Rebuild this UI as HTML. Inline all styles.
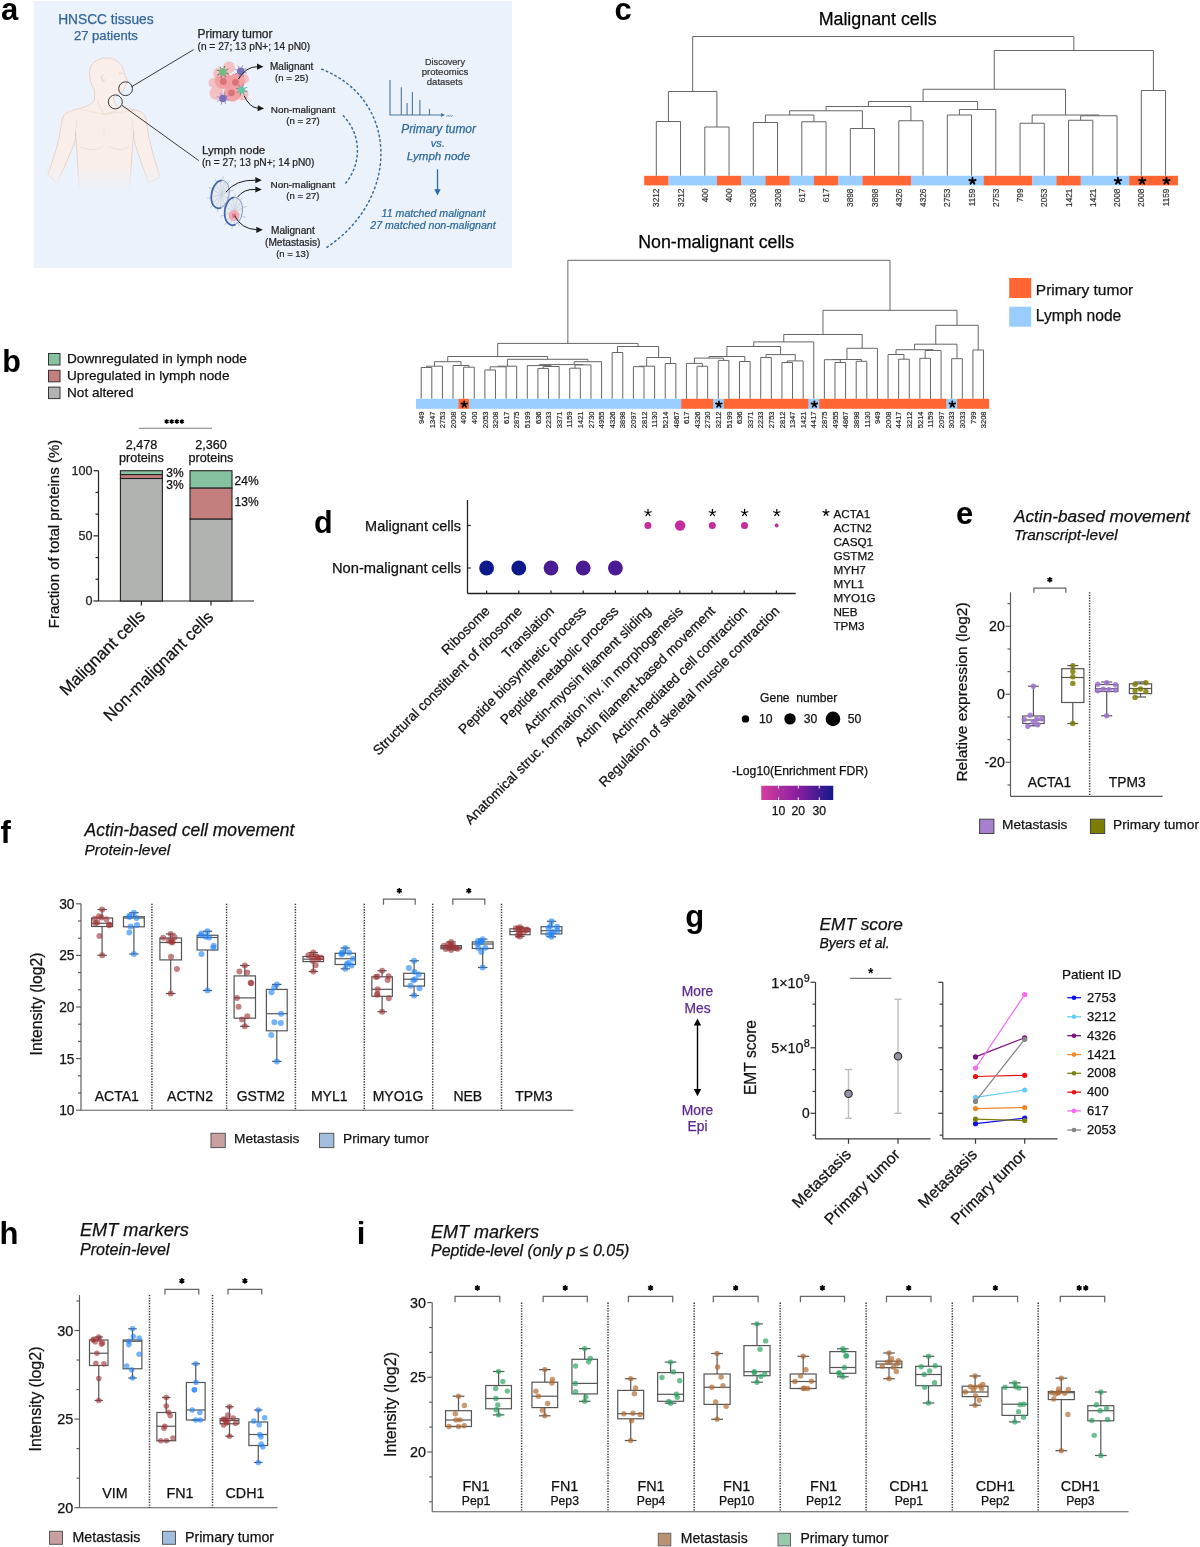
<!DOCTYPE html>
<html><head><meta charset="utf-8"><title>Figure</title>
<style>
html,body{margin:0;padding:0;background:#fff;}
body{width:1200px;height:1547px;overflow:hidden;}
svg{display:block;font-family:"Liberation Sans", sans-serif;will-change:transform;}
</style></head>
<body>
<svg width="1200" height="1547" viewBox="0 0 1200 1547">
<rect x="0" y="0" width="1200" height="1547" fill="#fff"/>
<rect x="34.00" y="1.00" width="478.00" height="267.00" fill="#EBF2FB"/>
<text x="1.00" y="20.20" font-size="31" text-anchor="start" font-weight="bold" font-style="normal" fill="#000">a</text>
<text x="105.90" y="23.80" font-size="13.75" text-anchor="middle" font-weight="normal" font-style="normal" fill="#33669E" stroke="#33669E" stroke-width="0.25">HNSCC tissues</text>
<text x="105.90" y="40.00" font-size="13.07" text-anchor="middle" font-weight="normal" font-style="normal" fill="#33669E" stroke="#33669E" stroke-width="0.25">27 patients</text>
<defs><linearGradient id="skinfade" x1="0" y1="0" x2="0" y2="1"><stop offset="0" stop-color="#F9EEE9"/><stop offset="0.82" stop-color="#F9EEE9"/><stop offset="1" stop-color="#F9EEE9" stop-opacity="0"/></linearGradient></defs>
<defs><linearGradient id="bfade" gradientUnits="userSpaceOnUse" x1="0" y1="165" x2="0" y2="192"><stop offset="0" stop-color="#fff"/><stop offset="1" stop-color="#000"/></linearGradient><mask id="bmask" maskUnits="userSpaceOnUse" x="30" y="40" width="150" height="160"><rect x="30" y="40" width="150" height="160" fill="url(#bfade)"/></mask></defs>
<g mask="url(#bmask)">
<path d="M107,58 C97.5,58 89.5,64 89.5,72 C89.5,79 91,85 94.5,90 L94.5,100 C92,104 86,107 80,108.5 C72,110 66,112 63.5,116 C61.5,120 61,127 60,133 C58,145 53,160 47.8,174.5 L57,183 C63,170 70,155 75.5,140 L75.5,131 C77,150 78,172 79.6,191 L129.4,191 C131,172 132,150 133.6,131 L134,140 C138,155 144,170 149,183 L160,177 C156,165 151,148 148,133 C147,126 146.5,120 145,116 C142,111 135,109.5 128,108.5 C122,107.5 118,106.5 116,105.5 L113,97.5 C116,96.5 121,93.5 123.5,90 C125,87.5 125.5,85 126.5,83.2 L128.2,81.3 C126.5,79 125,76 124.2,72.5 C123,65 117,58 107,58 Z" fill="#F9EEE9" stroke="#E4CABF" stroke-width="0.8"/>
<path d="M97,100 C99,106 102,111 104,114.5 C108,113 113,112 117,111" fill="none" stroke="#EAD6CD" stroke-width="0.7"/>
<path d="M80,109 C88,111 97,113 104,114.5 C115,113 128,111 138,110" fill="none" stroke="#EAD6CD" stroke-width="0.6"/>
<path d="M75.5,131 C76.5,127 77,123 77,119" fill="none" stroke="#EAD6CD" stroke-width="0.6"/>
<path d="M133.6,131 C132.5,127 132,123 132,119" fill="none" stroke="#EAD6CD" stroke-width="0.6"/>
<path d="M80,147 C90,151 98,150 103,146 M109,146 C114,150 121,151 129,147" fill="none" stroke="#EAD6CD" stroke-width="0.6"/>
<path d="M104,128 L104,134" fill="none" stroke="#EAD6CD" stroke-width="0.5"/>
<path d="M103.5,75 C101.5,74.5 101,79 102.5,81.5 C103.5,82.5 104.5,81 104,79" fill="none" stroke="#E0C4B8" stroke-width="0.7"/>
<path d="M119,73.5 C120.5,72.8 122,73 123,74" fill="none" stroke="#E0C4B8" stroke-width="0.7"/>
</g>
<circle cx="125.60" cy="88.70" r="6.90" fill="none" stroke="#3a3a3a" stroke-width="1.0"/>
<circle cx="115.30" cy="101.90" r="7.00" fill="none" stroke="#3a3a3a" stroke-width="1.0"/>
<line x1="131.30" y1="86.90" x2="193.50" y2="49.70" stroke="#3a3a3a" stroke-width="1.0"/>
<line x1="121.80" y1="105.20" x2="198.80" y2="160.60" stroke="#3a3a3a" stroke-width="1.0"/>
<text x="197.50" y="37.50" font-size="11.94" text-anchor="start" font-weight="normal" font-style="normal" fill="#222" stroke="#222" stroke-width="0.25">Primary tumor</text>
<text x="197.50" y="50.00" font-size="10.19" text-anchor="start" font-weight="normal" font-style="normal" fill="#222" stroke="#222" stroke-width="0.22">(n = 27; 13 pN+; 14 pN0)</text>
<text x="291.70" y="69.50" font-size="9.99" text-anchor="middle" font-weight="normal" font-style="normal" fill="#222" stroke="#222" stroke-width="0.22">Malignant</text>
<text x="291.70" y="80.80" font-size="9.58" text-anchor="middle" font-weight="normal" font-style="normal" fill="#222" stroke="#222" stroke-width="0.21">(n = 25)</text>
<text x="303.00" y="112.50" font-size="9.92" text-anchor="middle" font-weight="normal" font-style="normal" fill="#222" stroke="#222" stroke-width="0.22">Non-malignant</text>
<text x="303.00" y="124.20" font-size="9.61" text-anchor="middle" font-weight="normal" font-style="normal" fill="#222" stroke="#222" stroke-width="0.21">(n = 27)</text>
<text x="201.90" y="153.60" font-size="11.6" text-anchor="start" font-weight="normal" font-style="normal" fill="#222" stroke="#222" stroke-width="0.25">Lymph node</text>
<text x="201.90" y="165.90" font-size="10.19" text-anchor="start" font-weight="normal" font-style="normal" fill="#222" stroke="#222" stroke-width="0.22">(n = 27; 13 pN+; 14 pN0)</text>
<text x="302.90" y="187.80" font-size="9.95" text-anchor="middle" font-weight="normal" font-style="normal" fill="#222" stroke="#222" stroke-width="0.22">Non-malignant</text>
<text x="302.90" y="199.10" font-size="9.55" text-anchor="middle" font-weight="normal" font-style="normal" fill="#222" stroke="#222" stroke-width="0.21">(n = 27)</text>
<text x="292.90" y="234.10" font-size="10.1" text-anchor="middle" font-weight="normal" font-style="normal" fill="#222" stroke="#222" stroke-width="0.22">Malignant</text>
<text x="292.70" y="245.50" font-size="10.19" text-anchor="middle" font-weight="normal" font-style="normal" fill="#222" stroke="#222" stroke-width="0.22">(Metastasis)</text>
<text x="292.60" y="256.90" font-size="9.47" text-anchor="middle" font-weight="normal" font-style="normal" fill="#222" stroke="#222" stroke-width="0.21">(n = 13)</text>
<text x="445.00" y="64.60" font-size="9.11" text-anchor="middle" font-weight="normal" font-style="normal" fill="#333" stroke="#333" stroke-width="0.20">Discovery</text>
<text x="445.00" y="74.90" font-size="9.53" text-anchor="middle" font-weight="normal" font-style="normal" fill="#333" stroke="#333" stroke-width="0.21">proteomics</text>
<text x="444.80" y="85.30" font-size="9.5" text-anchor="middle" font-weight="normal" font-style="normal" fill="#333" stroke="#333" stroke-width="0.21">datasets</text>
<text x="438.60" y="133.40" font-size="11.92" text-anchor="middle" font-weight="normal" font-style="italic" fill="#2F6A9E" stroke="#2F6A9E" stroke-width="0.25">Primary tumor</text>
<text x="437.90" y="147.10" font-size="11.09" text-anchor="middle" font-weight="normal" font-style="italic" fill="#2F6A9E" stroke="#2F6A9E" stroke-width="0.24">vs.</text>
<text x="438.50" y="159.60" font-size="11.54" text-anchor="middle" font-weight="normal" font-style="italic" fill="#2F6A9E" stroke="#2F6A9E" stroke-width="0.25">Lymph node</text>
<text x="433.50" y="216.50" font-size="10.64" text-anchor="middle" font-weight="normal" font-style="italic" fill="#2F6A9E" stroke="#2F6A9E" stroke-width="0.23">11 matched malignant</text>
<text x="433.00" y="228.80" font-size="10.6" text-anchor="middle" font-weight="normal" font-style="italic" fill="#2F6A9E" stroke="#2F6A9E" stroke-width="0.23">27 matched non-malignant</text>
<polyline points="390.00,80.10 390.00,115.00 442.50,115.00" fill="none" stroke="#4F7499" stroke-width="1.1"/>
<path d="M445,115 L441,113 L441,117 Z" fill="#4F7499"/>
<line x1="401.30" y1="87.20" x2="401.30" y2="115.00" stroke="#4F7499" stroke-width="1.1"/>
<line x1="407.10" y1="103.00" x2="407.10" y2="115.00" stroke="#4F7499" stroke-width="1.1"/>
<line x1="412.40" y1="92.00" x2="412.40" y2="115.00" stroke="#4F7499" stroke-width="1.1"/>
<line x1="419.90" y1="100.10" x2="419.90" y2="115.00" stroke="#4F7499" stroke-width="1.1"/>
<line x1="429.50" y1="108.90" x2="429.50" y2="115.00" stroke="#4F7499" stroke-width="1.1"/>
<text x="446.50" y="116.50" font-size="4" text-anchor="start" font-weight="normal" font-style="italic" fill="#4F7499">m/z</text>
<line x1="437.50" y1="169.30" x2="437.50" y2="190.50" stroke="#2F6A9E" stroke-width="1.3"/>
<path d="M434.3,189.2 L440.7,189.2 L437.5,195.4 Z" fill="#2F6A9E"/>
<path d="M343.3,115.8 C362,135 362,165 344,185.1" fill="none" stroke="#3A6D9A" stroke-width="1.5" stroke-dasharray="1.6,3.2" stroke-linecap="round"/>
<path d="M321.7,69.2 C400,100 400,200 325.6,248.1" fill="none" stroke="#3A6D9A" stroke-width="1.5" stroke-dasharray="1.6,3.2" stroke-linecap="round"/>
<circle cx="216.50" cy="93.00" r="7.00" fill="#F5B8B8" opacity="0.85"/>
<circle cx="219.00" cy="73.50" r="6.00" fill="#F5B8B8" opacity="0.85"/>
<circle cx="242.50" cy="94.50" r="6.00" fill="#F5B8B8" opacity="0.85"/>
<circle cx="244.00" cy="79.00" r="5.00" fill="#F5B8B8" opacity="0.85"/>
<circle cx="229.00" cy="67.50" r="6.00" fill="#F5B8B8" opacity="0.85"/>
<circle cx="213.50" cy="83.00" r="5.00" fill="#F5B8B8" opacity="0.85"/>
<circle cx="223.50" cy="80.50" r="8.30" fill="#F3A0A2" stroke="#EE9496" stroke-width="0.5"/>
<circle cx="236.50" cy="81.50" r="8.00" fill="#F3A0A2" stroke="#EE9496" stroke-width="0.5"/>
<circle cx="232.50" cy="93.00" r="8.30" fill="#F3A0A2" stroke="#EE9496" stroke-width="0.5"/>
<circle cx="223.30" cy="81.50" r="3.40" fill="#D8737A"/>
<circle cx="235.50" cy="82.30" r="3.40" fill="#D8737A"/>
<circle cx="231.50" cy="92.80" r="3.40" fill="#D8737A"/>
<line x1="226.33" y1="73.09" x2="228.82" y2="73.86" stroke="#3d6b6a" stroke-width="0.8"/>
<line x1="224.53" y1="75.27" x2="225.74" y2="77.57" stroke="#3d6b6a" stroke-width="0.8"/>
<line x1="221.71" y1="75.53" x2="220.94" y2="78.02" stroke="#3d6b6a" stroke-width="0.8"/>
<line x1="219.53" y1="73.73" x2="217.23" y2="74.94" stroke="#3d6b6a" stroke-width="0.8"/>
<line x1="219.27" y1="70.91" x2="216.78" y2="70.14" stroke="#3d6b6a" stroke-width="0.8"/>
<line x1="221.07" y1="68.73" x2="219.86" y2="66.43" stroke="#3d6b6a" stroke-width="0.8"/>
<line x1="223.89" y1="68.47" x2="224.66" y2="65.98" stroke="#3d6b6a" stroke-width="0.8"/>
<line x1="226.07" y1="70.27" x2="228.37" y2="69.06" stroke="#3d6b6a" stroke-width="0.8"/>
<circle cx="222.80" cy="72.00" r="3.70" fill="#6DBE80"/>
<line x1="244.43" y1="72.42" x2="246.91" y2="73.19" stroke="#8a80c8" stroke-width="0.8"/>
<line x1="242.57" y1="74.66" x2="243.79" y2="76.96" stroke="#8a80c8" stroke-width="0.8"/>
<line x1="239.68" y1="74.93" x2="238.91" y2="77.41" stroke="#8a80c8" stroke-width="0.8"/>
<line x1="237.44" y1="73.07" x2="235.14" y2="74.29" stroke="#8a80c8" stroke-width="0.8"/>
<line x1="237.17" y1="70.18" x2="234.69" y2="69.41" stroke="#8a80c8" stroke-width="0.8"/>
<line x1="239.03" y1="67.94" x2="237.81" y2="65.64" stroke="#8a80c8" stroke-width="0.8"/>
<line x1="241.92" y1="67.67" x2="242.69" y2="65.19" stroke="#8a80c8" stroke-width="0.8"/>
<line x1="244.16" y1="69.53" x2="246.46" y2="68.31" stroke="#8a80c8" stroke-width="0.8"/>
<circle cx="240.80" cy="71.30" r="3.80" fill="#7A70BA"/>
<line x1="226.63" y1="99.62" x2="229.11" y2="100.39" stroke="#8a80c8" stroke-width="0.8"/>
<line x1="224.77" y1="101.86" x2="225.99" y2="104.16" stroke="#8a80c8" stroke-width="0.8"/>
<line x1="221.88" y1="102.13" x2="221.11" y2="104.61" stroke="#8a80c8" stroke-width="0.8"/>
<line x1="219.64" y1="100.27" x2="217.34" y2="101.49" stroke="#8a80c8" stroke-width="0.8"/>
<line x1="219.37" y1="97.38" x2="216.89" y2="96.61" stroke="#8a80c8" stroke-width="0.8"/>
<line x1="221.23" y1="95.14" x2="220.01" y2="92.84" stroke="#8a80c8" stroke-width="0.8"/>
<line x1="224.12" y1="94.87" x2="224.89" y2="92.39" stroke="#8a80c8" stroke-width="0.8"/>
<line x1="226.36" y1="96.73" x2="228.66" y2="95.51" stroke="#8a80c8" stroke-width="0.8"/>
<circle cx="223.00" cy="98.50" r="3.80" fill="#7A70BA"/>
<line x1="244.85" y1="90.98" x2="247.34" y2="91.74" stroke="#3d8a80" stroke-width="0.8"/>
<line x1="243.24" y1="92.92" x2="244.45" y2="95.22" stroke="#3d8a80" stroke-width="0.8"/>
<line x1="240.72" y1="93.15" x2="239.96" y2="95.64" stroke="#3d8a80" stroke-width="0.8"/>
<line x1="238.78" y1="91.54" x2="236.48" y2="92.75" stroke="#3d8a80" stroke-width="0.8"/>
<line x1="238.55" y1="89.02" x2="236.06" y2="88.26" stroke="#3d8a80" stroke-width="0.8"/>
<line x1="240.16" y1="87.08" x2="238.95" y2="84.78" stroke="#3d8a80" stroke-width="0.8"/>
<line x1="242.68" y1="86.85" x2="243.44" y2="84.36" stroke="#3d8a80" stroke-width="0.8"/>
<line x1="244.62" y1="88.46" x2="246.92" y2="87.25" stroke="#3d8a80" stroke-width="0.8"/>
<circle cx="241.70" cy="90.00" r="3.30" fill="#62C6A9"/>
<path d="M238.3,79.2 Q246,66.5 257.5,66.7" fill="none" stroke="#1a1a1a" stroke-width="1.0"/>
<path d="M263.50,66.70 L257.00,69.80 L257.00,63.60 Z" fill="#1a1a1a"/>
<path d="M244.2,95.8 Q249.5,107.5 258.0,108.3" fill="none" stroke="#1a1a1a" stroke-width="1.0"/>
<path d="M264.20,108.60 L257.55,111.37 L257.86,105.18 Z" fill="#1a1a1a"/>
<g transform="rotate(12 220.3 194.3)">
<line x1="227.93" y1="197.46" x2="233.14" y2="198.80" stroke="#B5C3D8" stroke-width="0.8"/>
<line x1="225.33" y1="204.14" x2="228.76" y2="208.31" stroke="#B5C3D8" stroke-width="0.8"/>
<line x1="220.80" y1="207.05" x2="221.15" y2="212.46" stroke="#B5C3D8" stroke-width="0.8"/>
<line x1="216.09" y1="205.10" x2="213.22" y2="209.68" stroke="#B5C3D8" stroke-width="0.8"/>
<line x1="212.98" y1="199.02" x2="207.99" y2="201.02" stroke="#B5C3D8" stroke-width="0.8"/>
<line x1="212.67" y1="191.14" x2="207.46" y2="189.80" stroke="#B5C3D8" stroke-width="0.8"/>
<line x1="215.27" y1="184.46" x2="211.84" y2="180.29" stroke="#B5C3D8" stroke-width="0.8"/>
<line x1="219.80" y1="181.55" x2="219.45" y2="176.14" stroke="#B5C3D8" stroke-width="0.8"/>
<line x1="224.51" y1="183.50" x2="227.38" y2="178.92" stroke="#B5C3D8" stroke-width="0.8"/>
<line x1="227.62" y1="189.58" x2="232.61" y2="187.58" stroke="#B5C3D8" stroke-width="0.8"/>
<ellipse cx="220.3" cy="194.3" rx="8.75" ry="14.2" fill="#E6EAF1" stroke="#7E98C2" stroke-width="0.9"/>
<line x1="221.80" y1="194.30" x2="228.45" y2="196.98" stroke="#C3CEDF" stroke-width="0.7"/>
<line x1="221.80" y1="194.30" x2="226.53" y2="203.23" stroke="#C3CEDF" stroke-width="0.7"/>
<line x1="221.80" y1="194.30" x2="222.94" y2="207.09" stroke="#C3CEDF" stroke-width="0.7"/>
<line x1="221.80" y1="194.30" x2="218.65" y2="207.52" stroke="#C3CEDF" stroke-width="0.7"/>
<line x1="221.80" y1="194.30" x2="214.80" y2="204.41" stroke="#C3CEDF" stroke-width="0.7"/>
<line x1="221.80" y1="194.30" x2="212.42" y2="198.59" stroke="#C3CEDF" stroke-width="0.7"/>
<line x1="221.80" y1="194.30" x2="212.15" y2="191.62" stroke="#C3CEDF" stroke-width="0.7"/>
<line x1="221.80" y1="194.30" x2="214.07" y2="185.37" stroke="#C3CEDF" stroke-width="0.7"/>
<line x1="221.80" y1="194.30" x2="217.66" y2="181.51" stroke="#C3CEDF" stroke-width="0.7"/>
<line x1="221.80" y1="194.30" x2="221.95" y2="181.08" stroke="#C3CEDF" stroke-width="0.7"/>
<line x1="221.80" y1="194.30" x2="225.80" y2="184.19" stroke="#C3CEDF" stroke-width="0.7"/>
<line x1="221.80" y1="194.30" x2="228.18" y2="190.01" stroke="#C3CEDF" stroke-width="0.7"/>
<path d="M218.78,180.32 A8.75,14.2 0 1 0 224.00,207.17" fill="none" stroke="#4767A8" stroke-width="1.7"/>
</g>
<g transform="rotate(8 233.6 211.3)">
<line x1="241.36" y1="214.42" x2="246.58" y2="215.75" stroke="#B5C3D8" stroke-width="0.8"/>
<line x1="238.71" y1="221.00" x2="242.16" y2="225.15" stroke="#B5C3D8" stroke-width="0.8"/>
<line x1="234.11" y1="223.87" x2="234.46" y2="229.26" stroke="#B5C3D8" stroke-width="0.8"/>
<line x1="229.32" y1="221.95" x2="226.43" y2="226.51" stroke="#B5C3D8" stroke-width="0.8"/>
<line x1="226.16" y1="215.95" x2="221.15" y2="217.95" stroke="#B5C3D8" stroke-width="0.8"/>
<line x1="225.84" y1="208.18" x2="220.62" y2="206.85" stroke="#B5C3D8" stroke-width="0.8"/>
<line x1="228.49" y1="201.60" x2="225.04" y2="197.45" stroke="#B5C3D8" stroke-width="0.8"/>
<line x1="233.09" y1="198.73" x2="232.74" y2="193.34" stroke="#B5C3D8" stroke-width="0.8"/>
<line x1="237.88" y1="200.65" x2="240.77" y2="196.09" stroke="#B5C3D8" stroke-width="0.8"/>
<line x1="241.04" y1="206.65" x2="246.05" y2="204.65" stroke="#B5C3D8" stroke-width="0.8"/>
<ellipse cx="233.6" cy="211.3" rx="8.9" ry="14.0" fill="#E6EAF1" stroke="#7E98C2" stroke-width="0.9"/>
<line x1="235.10" y1="211.30" x2="241.89" y2="213.94" stroke="#C3CEDF" stroke-width="0.7"/>
<line x1="235.10" y1="211.30" x2="239.94" y2="220.11" stroke="#C3CEDF" stroke-width="0.7"/>
<line x1="235.10" y1="211.30" x2="236.29" y2="223.91" stroke="#C3CEDF" stroke-width="0.7"/>
<line x1="235.10" y1="211.30" x2="231.92" y2="224.33" stroke="#C3CEDF" stroke-width="0.7"/>
<line x1="235.10" y1="211.30" x2="228.00" y2="221.27" stroke="#C3CEDF" stroke-width="0.7"/>
<line x1="235.10" y1="211.30" x2="225.58" y2="215.53" stroke="#C3CEDF" stroke-width="0.7"/>
<line x1="235.10" y1="211.30" x2="225.31" y2="208.66" stroke="#C3CEDF" stroke-width="0.7"/>
<line x1="235.10" y1="211.30" x2="227.26" y2="202.49" stroke="#C3CEDF" stroke-width="0.7"/>
<line x1="235.10" y1="211.30" x2="230.91" y2="198.69" stroke="#C3CEDF" stroke-width="0.7"/>
<line x1="235.10" y1="211.30" x2="235.28" y2="198.27" stroke="#C3CEDF" stroke-width="0.7"/>
<line x1="235.10" y1="211.30" x2="239.20" y2="201.33" stroke="#C3CEDF" stroke-width="0.7"/>
<line x1="235.10" y1="211.30" x2="241.62" y2="207.07" stroke="#C3CEDF" stroke-width="0.7"/>
<path d="M232.05,197.51 A8.9,14.0 0 1 0 237.36,223.99" fill="none" stroke="#4767A8" stroke-width="1.7"/>
</g>
<circle cx="234.00" cy="215.50" r="5.40" fill="#F0A5B2" opacity="0.95"/>
<circle cx="234.00" cy="215.50" r="2.20" fill="#DC7A8C"/>
<path d="M225.9,192.1 Q236,179.5 255.5,180.2" fill="none" stroke="#1a1a1a" stroke-width="1.0"/>
<path d="M261.80,180.20 L255.30,183.30 L255.30,177.10 Z" fill="#1a1a1a"/>
<path d="M237.3,197.4 Q244,188.5 255.5,189.5" fill="none" stroke="#1a1a1a" stroke-width="1.0"/>
<path d="M261.80,189.50 L255.30,192.60 L255.30,186.40 Z" fill="#1a1a1a"/>
<path d="M234.6,215.8 Q241.5,229 256.5,229.7" fill="none" stroke="#1a1a1a" stroke-width="1.0"/>
<path d="M262.80,229.80 L256.30,232.90 L256.30,226.70 Z" fill="#1a1a1a"/>
<text x="2.20" y="371.60" font-size="30.5" text-anchor="start" font-weight="bold" font-style="normal" fill="#000">b</text>
<rect x="48.50" y="353.50" width="11.50" height="11.50" fill="#86C29F" stroke="#333" stroke-width="1"/>
<text x="67.00" y="363.30" font-size="13.6" text-anchor="start" font-weight="normal" font-style="normal" fill="#111" stroke="#111" stroke-width="0.25">Downregulated in lymph node</text>
<rect x="48.50" y="370.30" width="11.50" height="11.50" fill="#C47E7E" stroke="#333" stroke-width="1"/>
<text x="67.00" y="380.00" font-size="13.6" text-anchor="start" font-weight="normal" font-style="normal" fill="#111" stroke="#111" stroke-width="0.25">Upregulated in lymph node</text>
<rect x="48.50" y="387.10" width="11.50" height="11.50" fill="#B1B3B1" stroke="#333" stroke-width="1"/>
<text x="67.00" y="396.80" font-size="13.6" text-anchor="start" font-weight="normal" font-style="normal" fill="#111" stroke="#111" stroke-width="0.25">Not altered</text>
<line x1="138.80" y1="428.30" x2="212.00" y2="428.30" stroke="#808080" stroke-width="1.1"/>
<path d="M166.65,419.20 L166.65,423.80 M168.64,420.35 L164.66,422.65 M168.64,422.65 L164.66,420.35 " fill="none" stroke="#000" stroke-width="1.6"/>
<path d="M171.75,419.20 L171.75,423.80 M173.74,420.35 L169.76,422.65 M173.74,422.65 L169.76,420.35 " fill="none" stroke="#000" stroke-width="1.6"/>
<path d="M176.85,419.20 L176.85,423.80 M178.84,420.35 L174.86,422.65 M178.84,422.65 L174.86,420.35 " fill="none" stroke="#000" stroke-width="1.6"/>
<path d="M181.95,419.20 L181.95,423.80 M183.94,420.35 L179.96,422.65 M183.94,422.65 L179.96,420.35 " fill="none" stroke="#000" stroke-width="1.6"/>
<line x1="98.50" y1="470.70" x2="98.50" y2="601.00" stroke="#222" stroke-width="1.2"/>
<line x1="98.50" y1="601.00" x2="254.00" y2="601.00" stroke="#222" stroke-width="1.2"/>
<line x1="93.50" y1="601.00" x2="98.50" y2="601.00" stroke="#222" stroke-width="1.2"/>
<line x1="93.50" y1="535.85" x2="98.50" y2="535.85" stroke="#222" stroke-width="1.2"/>
<line x1="93.50" y1="470.70" x2="98.50" y2="470.70" stroke="#222" stroke-width="1.2"/>
<line x1="95.50" y1="579.28" x2="98.50" y2="579.28" stroke="#222" stroke-width="1.2"/>
<line x1="95.50" y1="557.57" x2="98.50" y2="557.57" stroke="#222" stroke-width="1.2"/>
<line x1="95.50" y1="514.13" x2="98.50" y2="514.13" stroke="#222" stroke-width="1.2"/>
<line x1="95.50" y1="492.42" x2="98.50" y2="492.42" stroke="#222" stroke-width="1.2"/>
<text x="92.50" y="605.40" font-size="12.6" text-anchor="end" font-weight="normal" font-style="normal" fill="#222" stroke="#222" stroke-width="0.25">0</text>
<text x="92.50" y="540.25" font-size="12.6" text-anchor="end" font-weight="normal" font-style="normal" fill="#222" stroke="#222" stroke-width="0.25">50</text>
<text x="92.50" y="475.10" font-size="12.6" text-anchor="end" font-weight="normal" font-style="normal" fill="#222" stroke="#222" stroke-width="0.25">100</text>
<line x1="141.40" y1="601.00" x2="141.40" y2="605.60" stroke="#222" stroke-width="1.2"/>
<line x1="211.00" y1="601.00" x2="211.00" y2="605.60" stroke="#222" stroke-width="1.2"/>
<rect x="120.40" y="470.70" width="42.00" height="3.91" fill="#86C29F" stroke="#222" stroke-width="1.1"/>
<rect x="120.40" y="474.61" width="42.00" height="3.91" fill="#C47E7E" stroke="#222" stroke-width="1.1"/>
<rect x="120.40" y="478.52" width="42.00" height="122.48" fill="#B1B3B1" stroke="#222" stroke-width="1.1"/>
<rect x="190.00" y="470.70" width="42.00" height="17.46" fill="#86C29F" stroke="#222" stroke-width="1.1"/>
<rect x="190.00" y="488.16" width="42.00" height="31.01" fill="#C47E7E" stroke="#222" stroke-width="1.1"/>
<rect x="190.00" y="519.17" width="42.00" height="81.83" fill="#B1B3B1" stroke="#222" stroke-width="1.1"/>
<text x="141.40" y="449.40" font-size="12.6" text-anchor="middle" font-weight="normal" font-style="normal" fill="#111" stroke="#111" stroke-width="0.25">2,478</text>
<text x="141.40" y="462.40" font-size="12.6" text-anchor="middle" font-weight="normal" font-style="normal" fill="#111" stroke="#111" stroke-width="0.25">proteins</text>
<text x="211.00" y="449.40" font-size="12.6" text-anchor="middle" font-weight="normal" font-style="normal" fill="#111" stroke="#111" stroke-width="0.25">2,360</text>
<text x="211.00" y="462.40" font-size="12.6" text-anchor="middle" font-weight="normal" font-style="normal" fill="#111" stroke="#111" stroke-width="0.25">proteins</text>
<text x="166.30" y="476.50" font-size="12" text-anchor="start" font-weight="normal" font-style="normal" fill="#111" stroke="#111" stroke-width="0.25">3%</text>
<text x="166.30" y="488.50" font-size="12" text-anchor="start" font-weight="normal" font-style="normal" fill="#111" stroke="#111" stroke-width="0.25">3%</text>
<text x="234.60" y="484.80" font-size="12" text-anchor="start" font-weight="normal" font-style="normal" fill="#111" stroke="#111" stroke-width="0.25">24%</text>
<text x="234.60" y="506.30" font-size="12" text-anchor="start" font-weight="normal" font-style="normal" fill="#111" stroke="#111" stroke-width="0.25">13%</text>
<text x="58.70" y="534.00" font-size="15" text-anchor="middle" font-weight="normal" font-style="normal" fill="#111" stroke="#111" stroke-width="0.25" transform="rotate(-90 58.70 534.00)">Fraction of total proteins (%)</text>
<text x="146.00" y="617.00" font-size="17" text-anchor="end" font-weight="normal" font-style="normal" fill="#111" stroke="#111" stroke-width="0.25" transform="rotate(-45 146.00 617.00)">Malignant cells</text>
<text x="214.50" y="618.00" font-size="16.8" text-anchor="end" font-weight="normal" font-style="normal" fill="#111" stroke="#111" stroke-width="0.25" transform="rotate(-45 214.50 618.00)">Non-malignant cells</text>
<text x="614.50" y="20.30" font-size="31" text-anchor="start" font-weight="bold" font-style="normal" fill="#000">c</text>
<text x="877.60" y="25.20" font-size="17.84" text-anchor="middle" font-weight="normal" font-style="normal" fill="#000" stroke="#000" stroke-width="0.25">Malignant cells</text>
<polyline points="656.30,175.80 656.30,121.50 680.55,121.50 680.55,175.80" fill="none" stroke="#666666" stroke-width="1.0"/>
<polyline points="704.80,175.80 704.80,127.00 729.05,127.00 729.05,175.80" fill="none" stroke="#666666" stroke-width="1.0"/>
<polyline points="668.42,121.50 668.42,91.50 716.92,91.50 716.92,127.00" fill="none" stroke="#666666" stroke-width="1.0"/>
<polyline points="753.30,175.80 753.30,122.50 777.55,122.50 777.55,175.80" fill="none" stroke="#666666" stroke-width="1.0"/>
<polyline points="801.80,175.80 801.80,121.75 826.05,121.75 826.05,175.80" fill="none" stroke="#666666" stroke-width="1.0"/>
<polyline points="765.42,122.50 765.42,115.00 813.92,115.00 813.92,121.75" fill="none" stroke="#666666" stroke-width="1.0"/>
<polyline points="850.30,175.80 850.30,128.50 874.55,128.50 874.55,175.80" fill="none" stroke="#666666" stroke-width="1.0"/>
<polyline points="789.67,115.00 789.67,110.75 862.42,110.75 862.42,128.50" fill="none" stroke="#666666" stroke-width="1.0"/>
<polyline points="898.80,175.80 898.80,120.75 923.05,120.75 923.05,175.80" fill="none" stroke="#666666" stroke-width="1.0"/>
<polyline points="826.05,110.75 826.05,106.50 910.92,106.50 910.92,120.75" fill="none" stroke="#666666" stroke-width="1.0"/>
<polyline points="947.30,175.80 947.30,115.00 971.55,115.00 971.55,175.80" fill="none" stroke="#666666" stroke-width="1.0"/>
<polyline points="959.42,115.00 959.42,109.50 995.80,109.50 995.80,175.80" fill="none" stroke="#666666" stroke-width="1.0"/>
<polyline points="868.49,106.50 868.49,101.50 977.61,101.50 977.61,109.50" fill="none" stroke="#666666" stroke-width="1.0"/>
<polyline points="1020.05,175.80 1020.05,123.25 1044.30,123.25 1044.30,175.80" fill="none" stroke="#666666" stroke-width="1.0"/>
<polyline points="1068.55,175.80 1068.55,120.25 1092.80,120.25 1092.80,175.80" fill="none" stroke="#666666" stroke-width="1.0"/>
<polyline points="1080.67,120.25 1080.67,115.75 1117.05,115.75 1117.05,175.80" fill="none" stroke="#666666" stroke-width="1.0"/>
<polyline points="1032.17,123.25 1032.17,115.00 1098.86,115.00 1098.86,115.75" fill="none" stroke="#666666" stroke-width="1.0"/>
<polyline points="923.05,101.50 923.05,89.25 1065.52,89.25 1065.52,115.00" fill="none" stroke="#666666" stroke-width="1.0"/>
<polyline points="1141.30,175.80 1141.30,90.50 1165.55,90.50 1165.55,175.80" fill="none" stroke="#666666" stroke-width="1.0"/>
<polyline points="994.28,89.25 994.28,50.50 1153.42,50.50 1153.42,90.50" fill="none" stroke="#666666" stroke-width="1.0"/>
<polyline points="692.67,91.50 692.67,36.50 1073.85,36.50 1073.85,50.50" fill="none" stroke="#666666" stroke-width="1.0"/>
<rect x="644.20" y="175.80" width="24.45" height="9.60" fill="#FF6633"/>
<rect x="668.45" y="175.80" width="48.70" height="9.60" fill="#99CCFF"/>
<rect x="716.95" y="175.80" width="24.45" height="9.60" fill="#FF6633"/>
<rect x="741.20" y="175.80" width="24.45" height="9.60" fill="#99CCFF"/>
<rect x="765.45" y="175.80" width="24.45" height="9.60" fill="#FF6633"/>
<rect x="789.70" y="175.80" width="24.45" height="9.60" fill="#99CCFF"/>
<rect x="813.95" y="175.80" width="24.45" height="9.60" fill="#FF6633"/>
<rect x="838.20" y="175.80" width="24.45" height="9.60" fill="#99CCFF"/>
<rect x="862.45" y="175.80" width="48.70" height="9.60" fill="#FF6633"/>
<rect x="910.95" y="175.80" width="72.95" height="9.60" fill="#99CCFF"/>
<rect x="983.70" y="175.80" width="48.70" height="9.60" fill="#FF6633"/>
<rect x="1032.20" y="175.80" width="24.45" height="9.60" fill="#99CCFF"/>
<rect x="1056.45" y="175.80" width="24.45" height="9.60" fill="#FF6633"/>
<rect x="1080.70" y="175.80" width="48.70" height="9.60" fill="#99CCFF"/>
<rect x="1129.20" y="175.80" width="48.70" height="9.60" fill="#FF6633"/>
<path d="M972.45,181.00 L972.45,177.70 M972.45,181.00 L975.59,179.98 M972.45,181.00 L974.39,183.67 M972.45,181.00 L970.51,183.67 M972.45,181.00 L969.31,179.98 " fill="none" stroke="#000" stroke-width="1.9" stroke-linecap="round"/>
<path d="M1117.95,181.00 L1117.95,177.70 M1117.95,181.00 L1121.09,179.98 M1117.95,181.00 L1119.89,183.67 M1117.95,181.00 L1116.01,183.67 M1117.95,181.00 L1114.81,179.98 " fill="none" stroke="#000" stroke-width="1.9" stroke-linecap="round"/>
<path d="M1142.20,181.00 L1142.20,177.70 M1142.20,181.00 L1145.34,179.98 M1142.20,181.00 L1144.14,183.67 M1142.20,181.00 L1140.26,183.67 M1142.20,181.00 L1139.06,179.98 " fill="none" stroke="#000" stroke-width="1.9" stroke-linecap="round"/>
<path d="M1166.45,181.00 L1166.45,177.70 M1166.45,181.00 L1169.59,179.98 M1166.45,181.00 L1168.39,183.67 M1166.45,181.00 L1164.51,183.67 M1166.45,181.00 L1163.31,179.98 " fill="none" stroke="#000" stroke-width="1.9" stroke-linecap="round"/>
<text x="659.29" y="188.50" font-size="8.3" text-anchor="end" font-weight="normal" font-style="normal" fill="#333" stroke="#333" stroke-width="0.18" transform="rotate(-90 659.29 188.50)">3212</text>
<text x="683.54" y="188.50" font-size="8.3" text-anchor="end" font-weight="normal" font-style="normal" fill="#333" stroke="#333" stroke-width="0.18" transform="rotate(-90 683.54 188.50)">3212</text>
<text x="707.79" y="188.50" font-size="8.3" text-anchor="end" font-weight="normal" font-style="normal" fill="#333" stroke="#333" stroke-width="0.18" transform="rotate(-90 707.79 188.50)">400</text>
<text x="732.04" y="188.50" font-size="8.3" text-anchor="end" font-weight="normal" font-style="normal" fill="#333" stroke="#333" stroke-width="0.18" transform="rotate(-90 732.04 188.50)">400</text>
<text x="756.29" y="188.50" font-size="8.3" text-anchor="end" font-weight="normal" font-style="normal" fill="#333" stroke="#333" stroke-width="0.18" transform="rotate(-90 756.29 188.50)">3208</text>
<text x="780.54" y="188.50" font-size="8.3" text-anchor="end" font-weight="normal" font-style="normal" fill="#333" stroke="#333" stroke-width="0.18" transform="rotate(-90 780.54 188.50)">3208</text>
<text x="804.79" y="188.50" font-size="8.3" text-anchor="end" font-weight="normal" font-style="normal" fill="#333" stroke="#333" stroke-width="0.18" transform="rotate(-90 804.79 188.50)">617</text>
<text x="829.04" y="188.50" font-size="8.3" text-anchor="end" font-weight="normal" font-style="normal" fill="#333" stroke="#333" stroke-width="0.18" transform="rotate(-90 829.04 188.50)">617</text>
<text x="853.29" y="188.50" font-size="8.3" text-anchor="end" font-weight="normal" font-style="normal" fill="#333" stroke="#333" stroke-width="0.18" transform="rotate(-90 853.29 188.50)">3898</text>
<text x="877.54" y="188.50" font-size="8.3" text-anchor="end" font-weight="normal" font-style="normal" fill="#333" stroke="#333" stroke-width="0.18" transform="rotate(-90 877.54 188.50)">3898</text>
<text x="901.79" y="188.50" font-size="8.3" text-anchor="end" font-weight="normal" font-style="normal" fill="#333" stroke="#333" stroke-width="0.18" transform="rotate(-90 901.79 188.50)">4326</text>
<text x="926.04" y="188.50" font-size="8.3" text-anchor="end" font-weight="normal" font-style="normal" fill="#333" stroke="#333" stroke-width="0.18" transform="rotate(-90 926.04 188.50)">4326</text>
<text x="950.29" y="188.50" font-size="8.3" text-anchor="end" font-weight="normal" font-style="normal" fill="#333" stroke="#333" stroke-width="0.18" transform="rotate(-90 950.29 188.50)">2753</text>
<text x="974.54" y="188.50" font-size="8.3" text-anchor="end" font-weight="normal" font-style="normal" fill="#333" stroke="#333" stroke-width="0.18" transform="rotate(-90 974.54 188.50)">1159</text>
<text x="998.79" y="188.50" font-size="8.3" text-anchor="end" font-weight="normal" font-style="normal" fill="#333" stroke="#333" stroke-width="0.18" transform="rotate(-90 998.79 188.50)">2753</text>
<text x="1023.04" y="188.50" font-size="8.3" text-anchor="end" font-weight="normal" font-style="normal" fill="#333" stroke="#333" stroke-width="0.18" transform="rotate(-90 1023.04 188.50)">799</text>
<text x="1047.29" y="188.50" font-size="8.3" text-anchor="end" font-weight="normal" font-style="normal" fill="#333" stroke="#333" stroke-width="0.18" transform="rotate(-90 1047.29 188.50)">2053</text>
<text x="1071.54" y="188.50" font-size="8.3" text-anchor="end" font-weight="normal" font-style="normal" fill="#333" stroke="#333" stroke-width="0.18" transform="rotate(-90 1071.54 188.50)">1421</text>
<text x="1095.79" y="188.50" font-size="8.3" text-anchor="end" font-weight="normal" font-style="normal" fill="#333" stroke="#333" stroke-width="0.18" transform="rotate(-90 1095.79 188.50)">1421</text>
<text x="1120.04" y="188.50" font-size="8.3" text-anchor="end" font-weight="normal" font-style="normal" fill="#333" stroke="#333" stroke-width="0.18" transform="rotate(-90 1120.04 188.50)">2008</text>
<text x="1144.29" y="188.50" font-size="8.3" text-anchor="end" font-weight="normal" font-style="normal" fill="#333" stroke="#333" stroke-width="0.18" transform="rotate(-90 1144.29 188.50)">2008</text>
<text x="1168.54" y="188.50" font-size="8.3" text-anchor="end" font-weight="normal" font-style="normal" fill="#333" stroke="#333" stroke-width="0.18" transform="rotate(-90 1168.54 188.50)">1159</text>
<text x="716.20" y="247.50" font-size="17.77" text-anchor="middle" font-weight="normal" font-style="normal" fill="#000" stroke="#000" stroke-width="0.25">Non-malignant cells</text>
<polyline points="421.20,398.80 421.20,367.50 431.81,367.50 431.81,398.80" fill="none" stroke="#666666" stroke-width="1.0"/>
<polyline points="426.50,367.50 426.50,366.20 442.42,366.20 442.42,398.80" fill="none" stroke="#666666" stroke-width="1.0"/>
<polyline points="463.64,398.80 463.64,367.20 474.25,367.20 474.25,398.80" fill="none" stroke="#666666" stroke-width="1.0"/>
<polyline points="453.03,398.80 453.03,365.50 468.94,365.50 468.94,367.20" fill="none" stroke="#666666" stroke-width="1.0"/>
<polyline points="434.46,366.20 434.46,361.70 460.99,361.70 460.99,365.50" fill="none" stroke="#666666" stroke-width="1.0"/>
<polyline points="484.86,398.80 484.86,370.00 495.47,370.00 495.47,398.80" fill="none" stroke="#666666" stroke-width="1.0"/>
<polyline points="490.16,370.00 490.16,366.80 506.08,366.80 506.08,398.80" fill="none" stroke="#666666" stroke-width="1.0"/>
<polyline points="498.12,366.80 498.12,366.20 516.69,366.20 516.69,398.80" fill="none" stroke="#666666" stroke-width="1.0"/>
<polyline points="537.91,398.80 537.91,368.40 548.52,368.40 548.52,398.80" fill="none" stroke="#666666" stroke-width="1.0"/>
<polyline points="543.21,368.40 543.21,366.50 559.13,366.50 559.13,398.80" fill="none" stroke="#666666" stroke-width="1.0"/>
<polyline points="527.30,398.80 527.30,365.60 551.17,365.60 551.17,366.50" fill="none" stroke="#666666" stroke-width="1.0"/>
<polyline points="569.74,398.80 569.74,368.20 580.35,368.20 580.35,398.80" fill="none" stroke="#666666" stroke-width="1.0"/>
<polyline points="575.04,368.20 575.04,364.90 590.96,364.90 590.96,398.80" fill="none" stroke="#666666" stroke-width="1.0"/>
<polyline points="539.24,365.60 539.24,364.60 583.00,364.60 583.00,364.90" fill="none" stroke="#666666" stroke-width="1.0"/>
<polyline points="574.20,364.60 574.20,361.70 601.57,361.70 601.57,398.80" fill="none" stroke="#666666" stroke-width="1.0"/>
<polyline points="507.41,366.20 507.41,359.30 587.88,359.30 587.88,361.70" fill="none" stroke="#666666" stroke-width="1.0"/>
<polyline points="447.72,361.70 447.72,356.50 547.65,356.50 547.65,359.30" fill="none" stroke="#666666" stroke-width="1.0"/>
<polyline points="612.18,398.80 612.18,352.50 622.79,352.50 622.79,398.80" fill="none" stroke="#666666" stroke-width="1.0"/>
<polyline points="633.40,398.80 633.40,366.70 644.01,366.70 644.01,398.80" fill="none" stroke="#666666" stroke-width="1.0"/>
<polyline points="638.70,366.70 638.70,366.20 654.62,366.20 654.62,398.80" fill="none" stroke="#666666" stroke-width="1.0"/>
<polyline points="665.23,398.80 665.23,363.50 675.84,363.50 675.84,398.80" fill="none" stroke="#666666" stroke-width="1.0"/>
<polyline points="646.66,366.20 646.66,357.50 670.53,357.50 670.53,363.50" fill="none" stroke="#666666" stroke-width="1.0"/>
<polyline points="617.48,352.50 617.48,346.50 658.60,346.50 658.60,357.50" fill="none" stroke="#666666" stroke-width="1.0"/>
<polyline points="497.69,356.50 497.69,343.40 638.04,343.40 638.04,346.50" fill="none" stroke="#666666" stroke-width="1.0"/>
<polyline points="697.06,398.80 697.06,366.25 707.67,366.25 707.67,398.80" fill="none" stroke="#666666" stroke-width="1.0"/>
<polyline points="686.45,398.80 686.45,363.40 702.37,363.40 702.37,366.25" fill="none" stroke="#666666" stroke-width="1.0"/>
<polyline points="718.28,398.80 718.28,360.40 728.89,360.40 728.89,398.80" fill="none" stroke="#666666" stroke-width="1.0"/>
<polyline points="694.41,363.40 694.41,358.10 723.59,358.10 723.59,360.40" fill="none" stroke="#666666" stroke-width="1.0"/>
<polyline points="739.50,398.80 739.50,361.50 750.11,361.50 750.11,398.80" fill="none" stroke="#666666" stroke-width="1.0"/>
<polyline points="709.00,358.10 709.00,356.50 744.80,356.50 744.80,361.50" fill="none" stroke="#666666" stroke-width="1.0"/>
<polyline points="760.72,398.80 760.72,357.50 771.33,357.50 771.33,398.80" fill="none" stroke="#666666" stroke-width="1.0"/>
<polyline points="781.94,398.80 781.94,362.50 792.55,362.50 792.55,398.80" fill="none" stroke="#666666" stroke-width="1.0"/>
<polyline points="787.25,362.50 787.25,360.90 803.16,360.90 803.16,398.80" fill="none" stroke="#666666" stroke-width="1.0"/>
<polyline points="766.02,357.50 766.02,354.60 795.20,354.60 795.20,360.90" fill="none" stroke="#666666" stroke-width="1.0"/>
<polyline points="726.90,356.50 726.90,346.50 780.61,346.50 780.61,354.60" fill="none" stroke="#666666" stroke-width="1.0"/>
<polyline points="753.76,346.50 753.76,341.90 813.77,341.90 813.77,398.80" fill="none" stroke="#666666" stroke-width="1.0"/>
<polyline points="834.99,398.80 834.99,362.50 845.60,362.50 845.60,398.80" fill="none" stroke="#666666" stroke-width="1.0"/>
<polyline points="824.38,398.80 824.38,359.70 840.29,359.70 840.29,362.50" fill="none" stroke="#666666" stroke-width="1.0"/>
<polyline points="856.21,398.80 856.21,361.30 866.82,361.30 866.82,398.80" fill="none" stroke="#666666" stroke-width="1.0"/>
<polyline points="832.34,359.70 832.34,359.50 861.51,359.50 861.51,361.30" fill="none" stroke="#666666" stroke-width="1.0"/>
<polyline points="846.93,359.50 846.93,348.30 877.43,348.30 877.43,398.80" fill="none" stroke="#666666" stroke-width="1.0"/>
<polyline points="783.76,341.90 783.76,334.50 862.18,334.50 862.18,348.30" fill="none" stroke="#666666" stroke-width="1.0"/>
<polyline points="898.65,398.80 898.65,359.20 909.26,359.20 909.26,398.80" fill="none" stroke="#666666" stroke-width="1.0"/>
<polyline points="888.04,398.80 888.04,354.50 903.95,354.50 903.95,359.20" fill="none" stroke="#666666" stroke-width="1.0"/>
<polyline points="919.87,398.80 919.87,358.30 930.48,358.30 930.48,398.80" fill="none" stroke="#666666" stroke-width="1.0"/>
<polyline points="925.17,358.30 925.17,350.50 941.09,350.50 941.09,398.80" fill="none" stroke="#666666" stroke-width="1.0"/>
<polyline points="896.00,354.50 896.00,349.70 933.13,349.70 933.13,350.50" fill="none" stroke="#666666" stroke-width="1.0"/>
<polyline points="951.70,398.80 951.70,358.70 962.31,358.70 962.31,398.80" fill="none" stroke="#666666" stroke-width="1.0"/>
<polyline points="914.56,349.70 914.56,344.20 957.00,344.20 957.00,358.70" fill="none" stroke="#666666" stroke-width="1.0"/>
<polyline points="972.92,398.80 972.92,350.00 983.53,350.00 983.53,398.80" fill="none" stroke="#666666" stroke-width="1.0"/>
<polyline points="935.78,344.20 935.78,325.30 978.23,325.30 978.23,350.00" fill="none" stroke="#666666" stroke-width="1.0"/>
<polyline points="822.97,334.50 822.97,310.30 957.00,310.30 957.00,325.30" fill="none" stroke="#666666" stroke-width="1.0"/>
<polyline points="567.86,343.40 567.86,260.30 889.99,260.30 889.99,310.30" fill="none" stroke="#666666" stroke-width="1.0"/>
<rect x="416.00" y="398.80" width="42.64" height="10.00" fill="#99CCFF"/>
<rect x="458.44" y="398.80" width="10.81" height="10.00" fill="#FF6633"/>
<rect x="469.05" y="398.80" width="212.40" height="10.00" fill="#99CCFF"/>
<rect x="681.25" y="398.80" width="32.03" height="10.00" fill="#FF6633"/>
<rect x="713.08" y="398.80" width="10.81" height="10.00" fill="#99CCFF"/>
<rect x="723.69" y="398.80" width="85.08" height="10.00" fill="#FF6633"/>
<rect x="808.57" y="398.80" width="10.81" height="10.00" fill="#99CCFF"/>
<rect x="819.18" y="398.80" width="127.52" height="10.00" fill="#FF6633"/>
<rect x="946.50" y="398.80" width="10.81" height="10.00" fill="#99CCFF"/>
<rect x="957.11" y="398.80" width="32.03" height="10.00" fill="#FF6633"/>
<path d="M464.24,404.30 L464.24,401.30 M464.24,404.30 L467.09,403.37 M464.24,404.30 L466.00,406.73 M464.24,404.30 L462.48,406.73 M464.24,404.30 L461.39,403.37 " fill="none" stroke="#000" stroke-width="1.8" stroke-linecap="round"/>
<path d="M718.88,404.30 L718.88,401.30 M718.88,404.30 L721.73,403.37 M718.88,404.30 L720.64,406.73 M718.88,404.30 L717.12,406.73 M718.88,404.30 L716.03,403.37 " fill="none" stroke="#000" stroke-width="1.8" stroke-linecap="round"/>
<path d="M814.37,404.30 L814.37,401.30 M814.37,404.30 L817.22,403.37 M814.37,404.30 L816.13,406.73 M814.37,404.30 L812.61,406.73 M814.37,404.30 L811.52,403.37 " fill="none" stroke="#000" stroke-width="1.8" stroke-linecap="round"/>
<path d="M952.30,404.30 L952.30,401.30 M952.30,404.30 L955.15,403.37 M952.30,404.30 L954.06,406.73 M952.30,404.30 L950.54,406.73 M952.30,404.30 L949.45,403.37 " fill="none" stroke="#000" stroke-width="1.8" stroke-linecap="round"/>
<text x="423.90" y="411.50" font-size="7.5" text-anchor="end" font-weight="normal" font-style="normal" fill="#222" stroke="#222" stroke-width="0.16" transform="rotate(-90 423.90 411.50)">949</text>
<text x="434.51" y="411.50" font-size="7.5" text-anchor="end" font-weight="normal" font-style="normal" fill="#222" stroke="#222" stroke-width="0.16" transform="rotate(-90 434.51 411.50)">1347</text>
<text x="445.12" y="411.50" font-size="7.5" text-anchor="end" font-weight="normal" font-style="normal" fill="#222" stroke="#222" stroke-width="0.16" transform="rotate(-90 445.12 411.50)">2753</text>
<text x="455.73" y="411.50" font-size="7.5" text-anchor="end" font-weight="normal" font-style="normal" fill="#222" stroke="#222" stroke-width="0.16" transform="rotate(-90 455.73 411.50)">2008</text>
<text x="466.34" y="411.50" font-size="7.5" text-anchor="end" font-weight="normal" font-style="normal" fill="#222" stroke="#222" stroke-width="0.16" transform="rotate(-90 466.34 411.50)">400</text>
<text x="476.95" y="411.50" font-size="7.5" text-anchor="end" font-weight="normal" font-style="normal" fill="#222" stroke="#222" stroke-width="0.16" transform="rotate(-90 476.95 411.50)">400</text>
<text x="487.56" y="411.50" font-size="7.5" text-anchor="end" font-weight="normal" font-style="normal" fill="#222" stroke="#222" stroke-width="0.16" transform="rotate(-90 487.56 411.50)">2053</text>
<text x="498.17" y="411.50" font-size="7.5" text-anchor="end" font-weight="normal" font-style="normal" fill="#222" stroke="#222" stroke-width="0.16" transform="rotate(-90 498.17 411.50)">3208</text>
<text x="508.78" y="411.50" font-size="7.5" text-anchor="end" font-weight="normal" font-style="normal" fill="#222" stroke="#222" stroke-width="0.16" transform="rotate(-90 508.78 411.50)">617</text>
<text x="519.39" y="411.50" font-size="7.5" text-anchor="end" font-weight="normal" font-style="normal" fill="#222" stroke="#222" stroke-width="0.16" transform="rotate(-90 519.39 411.50)">2875</text>
<text x="530.00" y="411.50" font-size="7.5" text-anchor="end" font-weight="normal" font-style="normal" fill="#222" stroke="#222" stroke-width="0.16" transform="rotate(-90 530.00 411.50)">5199</text>
<text x="540.61" y="411.50" font-size="7.5" text-anchor="end" font-weight="normal" font-style="normal" fill="#222" stroke="#222" stroke-width="0.16" transform="rotate(-90 540.61 411.50)">636</text>
<text x="551.22" y="411.50" font-size="7.5" text-anchor="end" font-weight="normal" font-style="normal" fill="#222" stroke="#222" stroke-width="0.16" transform="rotate(-90 551.22 411.50)">2233</text>
<text x="561.83" y="411.50" font-size="7.5" text-anchor="end" font-weight="normal" font-style="normal" fill="#222" stroke="#222" stroke-width="0.16" transform="rotate(-90 561.83 411.50)">3371</text>
<text x="572.44" y="411.50" font-size="7.5" text-anchor="end" font-weight="normal" font-style="normal" fill="#222" stroke="#222" stroke-width="0.16" transform="rotate(-90 572.44 411.50)">1159</text>
<text x="583.05" y="411.50" font-size="7.5" text-anchor="end" font-weight="normal" font-style="normal" fill="#222" stroke="#222" stroke-width="0.16" transform="rotate(-90 583.05 411.50)">1421</text>
<text x="593.66" y="411.50" font-size="7.5" text-anchor="end" font-weight="normal" font-style="normal" fill="#222" stroke="#222" stroke-width="0.16" transform="rotate(-90 593.66 411.50)">2730</text>
<text x="604.27" y="411.50" font-size="7.5" text-anchor="end" font-weight="normal" font-style="normal" fill="#222" stroke="#222" stroke-width="0.16" transform="rotate(-90 604.27 411.50)">4955</text>
<text x="614.88" y="411.50" font-size="7.5" text-anchor="end" font-weight="normal" font-style="normal" fill="#222" stroke="#222" stroke-width="0.16" transform="rotate(-90 614.88 411.50)">4326</text>
<text x="625.49" y="411.50" font-size="7.5" text-anchor="end" font-weight="normal" font-style="normal" fill="#222" stroke="#222" stroke-width="0.16" transform="rotate(-90 625.49 411.50)">3898</text>
<text x="636.10" y="411.50" font-size="7.5" text-anchor="end" font-weight="normal" font-style="normal" fill="#222" stroke="#222" stroke-width="0.16" transform="rotate(-90 636.10 411.50)">2097</text>
<text x="646.71" y="411.50" font-size="7.5" text-anchor="end" font-weight="normal" font-style="normal" fill="#222" stroke="#222" stroke-width="0.16" transform="rotate(-90 646.71 411.50)">2812</text>
<text x="657.32" y="411.50" font-size="7.5" text-anchor="end" font-weight="normal" font-style="normal" fill="#222" stroke="#222" stroke-width="0.16" transform="rotate(-90 657.32 411.50)">1130</text>
<text x="667.93" y="411.50" font-size="7.5" text-anchor="end" font-weight="normal" font-style="normal" fill="#222" stroke="#222" stroke-width="0.16" transform="rotate(-90 667.93 411.50)">5214</text>
<text x="678.54" y="411.50" font-size="7.5" text-anchor="end" font-weight="normal" font-style="normal" fill="#222" stroke="#222" stroke-width="0.16" transform="rotate(-90 678.54 411.50)">4867</text>
<text x="689.15" y="411.50" font-size="7.5" text-anchor="end" font-weight="normal" font-style="normal" fill="#222" stroke="#222" stroke-width="0.16" transform="rotate(-90 689.15 411.50)">617</text>
<text x="699.76" y="411.50" font-size="7.5" text-anchor="end" font-weight="normal" font-style="normal" fill="#222" stroke="#222" stroke-width="0.16" transform="rotate(-90 699.76 411.50)">4326</text>
<text x="710.37" y="411.50" font-size="7.5" text-anchor="end" font-weight="normal" font-style="normal" fill="#222" stroke="#222" stroke-width="0.16" transform="rotate(-90 710.37 411.50)">2730</text>
<text x="720.98" y="411.50" font-size="7.5" text-anchor="end" font-weight="normal" font-style="normal" fill="#222" stroke="#222" stroke-width="0.16" transform="rotate(-90 720.98 411.50)">3212</text>
<text x="731.59" y="411.50" font-size="7.5" text-anchor="end" font-weight="normal" font-style="normal" fill="#222" stroke="#222" stroke-width="0.16" transform="rotate(-90 731.59 411.50)">5199</text>
<text x="742.20" y="411.50" font-size="7.5" text-anchor="end" font-weight="normal" font-style="normal" fill="#222" stroke="#222" stroke-width="0.16" transform="rotate(-90 742.20 411.50)">636</text>
<text x="752.81" y="411.50" font-size="7.5" text-anchor="end" font-weight="normal" font-style="normal" fill="#222" stroke="#222" stroke-width="0.16" transform="rotate(-90 752.81 411.50)">3371</text>
<text x="763.42" y="411.50" font-size="7.5" text-anchor="end" font-weight="normal" font-style="normal" fill="#222" stroke="#222" stroke-width="0.16" transform="rotate(-90 763.42 411.50)">2233</text>
<text x="774.03" y="411.50" font-size="7.5" text-anchor="end" font-weight="normal" font-style="normal" fill="#222" stroke="#222" stroke-width="0.16" transform="rotate(-90 774.03 411.50)">2753</text>
<text x="784.64" y="411.50" font-size="7.5" text-anchor="end" font-weight="normal" font-style="normal" fill="#222" stroke="#222" stroke-width="0.16" transform="rotate(-90 784.64 411.50)">2812</text>
<text x="795.25" y="411.50" font-size="7.5" text-anchor="end" font-weight="normal" font-style="normal" fill="#222" stroke="#222" stroke-width="0.16" transform="rotate(-90 795.25 411.50)">1347</text>
<text x="805.86" y="411.50" font-size="7.5" text-anchor="end" font-weight="normal" font-style="normal" fill="#222" stroke="#222" stroke-width="0.16" transform="rotate(-90 805.86 411.50)">1421</text>
<text x="816.47" y="411.50" font-size="7.5" text-anchor="end" font-weight="normal" font-style="normal" fill="#222" stroke="#222" stroke-width="0.16" transform="rotate(-90 816.47 411.50)">4417</text>
<text x="827.08" y="411.50" font-size="7.5" text-anchor="end" font-weight="normal" font-style="normal" fill="#222" stroke="#222" stroke-width="0.16" transform="rotate(-90 827.08 411.50)">2875</text>
<text x="837.69" y="411.50" font-size="7.5" text-anchor="end" font-weight="normal" font-style="normal" fill="#222" stroke="#222" stroke-width="0.16" transform="rotate(-90 837.69 411.50)">4955</text>
<text x="848.30" y="411.50" font-size="7.5" text-anchor="end" font-weight="normal" font-style="normal" fill="#222" stroke="#222" stroke-width="0.16" transform="rotate(-90 848.30 411.50)">4867</text>
<text x="858.91" y="411.50" font-size="7.5" text-anchor="end" font-weight="normal" font-style="normal" fill="#222" stroke="#222" stroke-width="0.16" transform="rotate(-90 858.91 411.50)">3898</text>
<text x="869.52" y="411.50" font-size="7.5" text-anchor="end" font-weight="normal" font-style="normal" fill="#222" stroke="#222" stroke-width="0.16" transform="rotate(-90 869.52 411.50)">1130</text>
<text x="880.13" y="411.50" font-size="7.5" text-anchor="end" font-weight="normal" font-style="normal" fill="#222" stroke="#222" stroke-width="0.16" transform="rotate(-90 880.13 411.50)">949</text>
<text x="890.74" y="411.50" font-size="7.5" text-anchor="end" font-weight="normal" font-style="normal" fill="#222" stroke="#222" stroke-width="0.16" transform="rotate(-90 890.74 411.50)">2008</text>
<text x="901.35" y="411.50" font-size="7.5" text-anchor="end" font-weight="normal" font-style="normal" fill="#222" stroke="#222" stroke-width="0.16" transform="rotate(-90 901.35 411.50)">4417</text>
<text x="911.96" y="411.50" font-size="7.5" text-anchor="end" font-weight="normal" font-style="normal" fill="#222" stroke="#222" stroke-width="0.16" transform="rotate(-90 911.96 411.50)">3212</text>
<text x="922.57" y="411.50" font-size="7.5" text-anchor="end" font-weight="normal" font-style="normal" fill="#222" stroke="#222" stroke-width="0.16" transform="rotate(-90 922.57 411.50)">5214</text>
<text x="933.18" y="411.50" font-size="7.5" text-anchor="end" font-weight="normal" font-style="normal" fill="#222" stroke="#222" stroke-width="0.16" transform="rotate(-90 933.18 411.50)">1159</text>
<text x="943.79" y="411.50" font-size="7.5" text-anchor="end" font-weight="normal" font-style="normal" fill="#222" stroke="#222" stroke-width="0.16" transform="rotate(-90 943.79 411.50)">2097</text>
<text x="954.40" y="411.50" font-size="7.5" text-anchor="end" font-weight="normal" font-style="normal" fill="#222" stroke="#222" stroke-width="0.16" transform="rotate(-90 954.40 411.50)">3033</text>
<text x="965.01" y="411.50" font-size="7.5" text-anchor="end" font-weight="normal" font-style="normal" fill="#222" stroke="#222" stroke-width="0.16" transform="rotate(-90 965.01 411.50)">3033</text>
<text x="975.62" y="411.50" font-size="7.5" text-anchor="end" font-weight="normal" font-style="normal" fill="#222" stroke="#222" stroke-width="0.16" transform="rotate(-90 975.62 411.50)">799</text>
<text x="986.23" y="411.50" font-size="7.5" text-anchor="end" font-weight="normal" font-style="normal" fill="#222" stroke="#222" stroke-width="0.16" transform="rotate(-90 986.23 411.50)">3208</text>
<rect x="1009.20" y="278.00" width="22.00" height="20.00" fill="#FF6633"/>
<rect x="1009.20" y="306.70" width="22.00" height="20.00" fill="#99CCFF"/>
<text x="1035.80" y="294.70" font-size="15.53" text-anchor="start" font-weight="normal" font-style="normal" fill="#111" stroke="#111" stroke-width="0.25">Primary tumor</text>
<text x="1035.80" y="321.30" font-size="15.65" text-anchor="start" font-weight="normal" font-style="normal" fill="#111" stroke="#111" stroke-width="0.25">Lymph node</text>
<text x="314.00" y="532.60" font-size="30.5" text-anchor="start" font-weight="bold" font-style="normal" fill="#000">d</text>
<line x1="467.50" y1="500.00" x2="467.50" y2="593.50" stroke="#222" stroke-width="1.3"/>
<line x1="467.50" y1="593.50" x2="795.70" y2="593.50" stroke="#222" stroke-width="1.3"/>
<line x1="467.50" y1="525.50" x2="470.70" y2="525.50" stroke="#222" stroke-width="1.2"/>
<line x1="467.50" y1="568.00" x2="470.70" y2="568.00" stroke="#222" stroke-width="1.2"/>
<line x1="486.60" y1="590.50" x2="486.60" y2="593.50" stroke="#222" stroke-width="1.2"/>
<line x1="518.80" y1="590.50" x2="518.80" y2="593.50" stroke="#222" stroke-width="1.2"/>
<line x1="551.00" y1="590.50" x2="551.00" y2="593.50" stroke="#222" stroke-width="1.2"/>
<line x1="583.20" y1="590.50" x2="583.20" y2="593.50" stroke="#222" stroke-width="1.2"/>
<line x1="615.40" y1="590.50" x2="615.40" y2="593.50" stroke="#222" stroke-width="1.2"/>
<line x1="647.60" y1="590.50" x2="647.60" y2="593.50" stroke="#222" stroke-width="1.2"/>
<line x1="679.80" y1="590.50" x2="679.80" y2="593.50" stroke="#222" stroke-width="1.2"/>
<line x1="712.00" y1="590.50" x2="712.00" y2="593.50" stroke="#222" stroke-width="1.2"/>
<line x1="744.20" y1="590.50" x2="744.20" y2="593.50" stroke="#222" stroke-width="1.2"/>
<line x1="776.40" y1="590.50" x2="776.40" y2="593.50" stroke="#222" stroke-width="1.2"/>
<text x="461.00" y="530.60" font-size="14.51" text-anchor="end" font-weight="normal" font-style="normal" fill="#111" stroke="#111" stroke-width="0.25">Malignant cells</text>
<text x="461.00" y="573.20" font-size="14.69" text-anchor="end" font-weight="normal" font-style="normal" fill="#111" stroke="#111" stroke-width="0.25">Non-malignant cells</text>
<circle cx="486.60" cy="568.00" r="7.40" fill="#0C1A8C"/>
<circle cx="518.80" cy="568.00" r="7.40" fill="#0C1A8C"/>
<circle cx="551.00" cy="568.00" r="7.40" fill="#4B1B95"/>
<circle cx="583.20" cy="568.00" r="7.40" fill="#4B1B95"/>
<circle cx="615.40" cy="568.00" r="7.40" fill="#4B1B95"/>
<circle cx="647.90" cy="525.50" r="3.50" fill="#C62D9C"/>
<circle cx="680.10" cy="525.50" r="5.20" fill="#C62D9C"/>
<circle cx="712.30" cy="525.50" r="3.50" fill="#C62D9C"/>
<circle cx="744.50" cy="525.50" r="3.50" fill="#C62D9C"/>
<circle cx="776.70" cy="525.50" r="1.90" fill="#C62D9C"/>
<path d="M648.00,512.80 L648.00,509.40 M648.00,512.80 L651.23,511.75 M648.00,512.80 L650.00,515.55 M648.00,512.80 L646.00,515.55 M648.00,512.80 L644.77,511.75 " fill="none" stroke="#000" stroke-width="1.2" stroke-linecap="round"/>
<path d="M712.40,512.80 L712.40,509.40 M712.40,512.80 L715.63,511.75 M712.40,512.80 L714.40,515.55 M712.40,512.80 L710.40,515.55 M712.40,512.80 L709.17,511.75 " fill="none" stroke="#000" stroke-width="1.2" stroke-linecap="round"/>
<path d="M744.60,512.80 L744.60,509.40 M744.60,512.80 L747.83,511.75 M744.60,512.80 L746.60,515.55 M744.60,512.80 L742.60,515.55 M744.60,512.80 L741.37,511.75 " fill="none" stroke="#000" stroke-width="1.2" stroke-linecap="round"/>
<path d="M776.80,512.80 L776.80,509.40 M776.80,512.80 L780.03,511.75 M776.80,512.80 L778.80,515.55 M776.80,512.80 L774.80,515.55 M776.80,512.80 L773.57,511.75 " fill="none" stroke="#000" stroke-width="1.2" stroke-linecap="round"/>
<text x="490.60" y="611.80" font-size="13.7" text-anchor="end" font-weight="normal" font-style="normal" fill="#111" stroke="#111" stroke-width="0.25" transform="rotate(-45 490.60 611.80)">Ribosome</text>
<text x="522.80" y="611.80" font-size="13.7" text-anchor="end" font-weight="normal" font-style="normal" fill="#111" stroke="#111" stroke-width="0.25" transform="rotate(-45 522.80 611.80)">Structural constituent of ribosome</text>
<text x="555.00" y="611.80" font-size="13.7" text-anchor="end" font-weight="normal" font-style="normal" fill="#111" stroke="#111" stroke-width="0.25" transform="rotate(-45 555.00 611.80)">Translation</text>
<text x="587.20" y="611.80" font-size="13.7" text-anchor="end" font-weight="normal" font-style="normal" fill="#111" stroke="#111" stroke-width="0.25" transform="rotate(-45 587.20 611.80)">Peptide biosynthetic process</text>
<text x="619.40" y="611.80" font-size="13.7" text-anchor="end" font-weight="normal" font-style="normal" fill="#111" stroke="#111" stroke-width="0.25" transform="rotate(-45 619.40 611.80)">Peptide metabolic process</text>
<text x="651.60" y="611.80" font-size="13.7" text-anchor="end" font-weight="normal" font-style="normal" fill="#111" stroke="#111" stroke-width="0.25" transform="rotate(-45 651.60 611.80)">Actin-myosin filament sliding</text>
<text x="683.80" y="611.80" font-size="13.7" text-anchor="end" font-weight="normal" font-style="normal" fill="#111" stroke="#111" stroke-width="0.25" transform="rotate(-45 683.80 611.80)">Anatomical struc. formation inv. in morphogenesis</text>
<text x="716.00" y="611.80" font-size="13.7" text-anchor="end" font-weight="normal" font-style="normal" fill="#111" stroke="#111" stroke-width="0.25" transform="rotate(-45 716.00 611.80)">Actin filament-based movement</text>
<text x="748.20" y="611.80" font-size="13.7" text-anchor="end" font-weight="normal" font-style="normal" fill="#111" stroke="#111" stroke-width="0.25" transform="rotate(-45 748.20 611.80)">Actin-mediated cell contraction</text>
<text x="780.40" y="611.80" font-size="13.7" text-anchor="end" font-weight="normal" font-style="normal" fill="#111" stroke="#111" stroke-width="0.25" transform="rotate(-45 780.40 611.80)">Regulation of skeletal muscle contraction</text>
<path d="M826.00,512.70 L826.00,509.50 M826.00,512.70 L829.04,511.71 M826.00,512.70 L827.88,515.29 M826.00,512.70 L824.12,515.29 M826.00,512.70 L822.96,511.71 " fill="none" stroke="#000" stroke-width="1.25" stroke-linecap="round"/>
<text x="833.40" y="517.55" font-size="11.7" text-anchor="start" font-weight="normal" font-style="normal" fill="#111" stroke="#111" stroke-width="0.25">ACTA1</text>
<text x="833.40" y="531.55" font-size="11.7" text-anchor="start" font-weight="normal" font-style="normal" fill="#111" stroke="#111" stroke-width="0.25">ACTN2</text>
<text x="833.40" y="545.55" font-size="11.7" text-anchor="start" font-weight="normal" font-style="normal" fill="#111" stroke="#111" stroke-width="0.25">CASQ1</text>
<text x="833.40" y="559.55" font-size="11.7" text-anchor="start" font-weight="normal" font-style="normal" fill="#111" stroke="#111" stroke-width="0.25">GSTM2</text>
<text x="833.40" y="573.55" font-size="11.7" text-anchor="start" font-weight="normal" font-style="normal" fill="#111" stroke="#111" stroke-width="0.25">MYH7</text>
<text x="833.40" y="587.55" font-size="11.7" text-anchor="start" font-weight="normal" font-style="normal" fill="#111" stroke="#111" stroke-width="0.25">MYL1</text>
<text x="833.40" y="601.55" font-size="11.7" text-anchor="start" font-weight="normal" font-style="normal" fill="#111" stroke="#111" stroke-width="0.25">MYO1G</text>
<text x="833.40" y="615.55" font-size="11.7" text-anchor="start" font-weight="normal" font-style="normal" fill="#111" stroke="#111" stroke-width="0.25">NEB</text>
<text x="833.40" y="629.55" font-size="11.7" text-anchor="start" font-weight="normal" font-style="normal" fill="#111" stroke="#111" stroke-width="0.25">TPM3</text>
<text x="760.00" y="701.60" font-size="12.1" text-anchor="start" font-weight="normal" font-style="normal" fill="#111" stroke="#111" stroke-width="0.25">Gene  number</text>
<circle cx="745.50" cy="718.90" r="3.70" fill="#000"/>
<text x="759.00" y="723.30" font-size="12.2" text-anchor="start" font-weight="normal" font-style="normal" fill="#111" stroke="#111" stroke-width="0.25">10</text>
<circle cx="790.00" cy="718.90" r="5.70" fill="#000"/>
<text x="803.80" y="723.30" font-size="12.2" text-anchor="start" font-weight="normal" font-style="normal" fill="#111" stroke="#111" stroke-width="0.25">30</text>
<circle cx="833.00" cy="718.90" r="7.30" fill="#000"/>
<text x="847.80" y="723.30" font-size="12.2" text-anchor="start" font-weight="normal" font-style="normal" fill="#111" stroke="#111" stroke-width="0.25">50</text>
<text x="732.00" y="775.00" font-size="12.2" text-anchor="start" font-weight="normal" font-style="normal" fill="#111" stroke="#111" stroke-width="0.25">-Log10(Enrichment FDR)</text>
<defs><linearGradient id="gd" x1="0" x2="1" y1="0" y2="0"><stop offset="0" stop-color="#D63C9E"/><stop offset="0.5" stop-color="#8A1FA0"/><stop offset="1" stop-color="#14198C"/></linearGradient></defs>
<rect x="761.25" y="785.75" width="72.00" height="14.25" fill="url(#gd)"/>
<line x1="778.50" y1="785.75" x2="778.50" y2="788.50" stroke="#fff" stroke-width="1"/>
<line x1="778.50" y1="797.30" x2="778.50" y2="800.00" stroke="#fff" stroke-width="1"/>
<line x1="798.30" y1="785.75" x2="798.30" y2="788.50" stroke="#fff" stroke-width="1"/>
<line x1="798.30" y1="797.30" x2="798.30" y2="800.00" stroke="#fff" stroke-width="1"/>
<line x1="819.30" y1="785.75" x2="819.30" y2="788.50" stroke="#fff" stroke-width="1"/>
<line x1="819.30" y1="797.30" x2="819.30" y2="800.00" stroke="#fff" stroke-width="1"/>
<text x="778.50" y="815.00" font-size="12.2" text-anchor="middle" font-weight="normal" font-style="normal" fill="#111" stroke="#111" stroke-width="0.25">10</text>
<text x="798.30" y="815.00" font-size="12.2" text-anchor="middle" font-weight="normal" font-style="normal" fill="#111" stroke="#111" stroke-width="0.25">20</text>
<text x="819.30" y="815.00" font-size="12.2" text-anchor="middle" font-weight="normal" font-style="normal" fill="#111" stroke="#111" stroke-width="0.25">30</text>
<text x="956.00" y="524.20" font-size="31" text-anchor="start" font-weight="bold" font-style="normal" fill="#000">e</text>
<text x="1014.00" y="521.50" font-size="17.21" text-anchor="start" font-weight="normal" font-style="italic" fill="#111" stroke="#111" stroke-width="0.25">Actin-based movement</text>
<text x="1014.00" y="539.70" font-size="15.33" text-anchor="start" font-weight="normal" font-style="italic" fill="#111" stroke="#111" stroke-width="0.25">Transcript-level</text>
<line x1="1010.50" y1="592.30" x2="1010.50" y2="796.30" stroke="#5a5a5a" stroke-width="1.15"/>
<line x1="1005.50" y1="626.30" x2="1010.50" y2="626.30" stroke="#5a5a5a" stroke-width="1.15"/>
<line x1="1005.50" y1="694.30" x2="1010.50" y2="694.30" stroke="#5a5a5a" stroke-width="1.15"/>
<line x1="1005.50" y1="762.30" x2="1010.50" y2="762.30" stroke="#5a5a5a" stroke-width="1.15"/>
<line x1="1007.50" y1="603.62" x2="1010.50" y2="603.62" stroke="#5a5a5a" stroke-width="1.15"/>
<line x1="1007.50" y1="648.98" x2="1010.50" y2="648.98" stroke="#5a5a5a" stroke-width="1.15"/>
<line x1="1007.50" y1="671.62" x2="1010.50" y2="671.62" stroke="#5a5a5a" stroke-width="1.15"/>
<line x1="1007.50" y1="716.98" x2="1010.50" y2="716.98" stroke="#5a5a5a" stroke-width="1.15"/>
<line x1="1007.50" y1="739.62" x2="1010.50" y2="739.62" stroke="#5a5a5a" stroke-width="1.15"/>
<line x1="1007.50" y1="784.98" x2="1010.50" y2="784.98" stroke="#5a5a5a" stroke-width="1.15"/>
<text x="1004.90" y="631.41" font-size="14.2" text-anchor="end" font-weight="normal" font-style="normal" fill="#111" stroke="#111" stroke-width="0.25">20</text>
<text x="1004.90" y="699.41" font-size="14.2" text-anchor="end" font-weight="normal" font-style="normal" fill="#111" stroke="#111" stroke-width="0.25">0</text>
<text x="1004.90" y="767.41" font-size="14.2" text-anchor="end" font-weight="normal" font-style="normal" fill="#111" stroke="#111" stroke-width="0.25">-20</text>
<line x1="1010.50" y1="796.30" x2="1162.70" y2="796.30" stroke="#5a5a5a" stroke-width="1.15"/>
<line x1="1089.60" y1="592.30" x2="1089.60" y2="796.30" stroke="#3a3a3a" stroke-width="1.5" stroke-dasharray="1.3,1.35"/>
<text x="966.50" y="692.00" font-size="15.5" text-anchor="middle" font-weight="normal" font-style="normal" fill="#111" stroke="#111" stroke-width="0.25" transform="rotate(-90 966.50 692.00)">Relative expression (log2)</text>
<text x="1049.50" y="786.50" font-size="13.8" text-anchor="middle" font-weight="normal" font-style="normal" fill="#111" stroke="#111" stroke-width="0.25">ACTA1</text>
<text x="1127.20" y="786.50" font-size="13.8" text-anchor="middle" font-weight="normal" font-style="normal" fill="#111" stroke="#111" stroke-width="0.25">TPM3</text>
<polyline points="1033.90,592.80 1033.90,588.20 1065.80,588.20 1065.80,592.80" fill="none" stroke="#666" stroke-width="1.25"/>
<path d="M1049.85,577.00 L1049.85,582.60 M1052.27,578.40 L1047.43,581.20 M1052.27,581.20 L1047.43,578.40 " fill="none" stroke="#000" stroke-width="1.55"/>
<line x1="1033.40" y1="686.20" x2="1033.40" y2="716.00" stroke="#555555" stroke-width="1.2"/>
<line x1="1033.40" y1="723.50" x2="1033.40" y2="725.80" stroke="#555555" stroke-width="1.2"/>
<line x1="1027.90" y1="686.20" x2="1038.90" y2="686.20" stroke="#555555" stroke-width="1.2"/>
<line x1="1027.90" y1="725.80" x2="1038.90" y2="725.80" stroke="#555555" stroke-width="1.2"/>
<rect x="1022.70" y="716.00" width="21.40" height="7.50" fill="none" stroke="#555555" stroke-width="1.2"/>
<line x1="1022.70" y1="720.00" x2="1044.10" y2="720.00" stroke="#555555" stroke-width="1.2"/>
<circle cx="1033.40" cy="686.20" r="2.70" fill="#9E72CF" fill-opacity="0.85"/>
<circle cx="1030.10" cy="715.30" r="2.70" fill="#9E72CF" fill-opacity="0.85"/>
<circle cx="1024.30" cy="719.50" r="2.70" fill="#9E72CF" fill-opacity="0.85"/>
<circle cx="1036.70" cy="719.30" r="2.70" fill="#9E72CF" fill-opacity="0.85"/>
<circle cx="1041.80" cy="718.80" r="2.70" fill="#9E72CF" fill-opacity="0.85"/>
<circle cx="1027.80" cy="726.30" r="2.70" fill="#9E72CF" fill-opacity="0.85"/>
<circle cx="1037.80" cy="724.70" r="2.70" fill="#9E72CF" fill-opacity="0.85"/>
<circle cx="1033.40" cy="722.30" r="2.70" fill="#9E72CF" fill-opacity="0.85"/>
<line x1="1072.80" y1="665.60" x2="1072.80" y2="668.70" stroke="#555555" stroke-width="1.2"/>
<line x1="1072.80" y1="702.50" x2="1072.80" y2="723.50" stroke="#555555" stroke-width="1.2"/>
<line x1="1067.30" y1="665.60" x2="1078.30" y2="665.60" stroke="#555555" stroke-width="1.2"/>
<line x1="1067.30" y1="723.50" x2="1078.30" y2="723.50" stroke="#555555" stroke-width="1.2"/>
<rect x="1061.70" y="668.70" width="22.20" height="33.80" fill="none" stroke="#555555" stroke-width="1.2"/>
<line x1="1061.70" y1="677.50" x2="1083.90" y2="677.50" stroke="#555555" stroke-width="1.2"/>
<circle cx="1072.80" cy="665.60" r="2.70" fill="#7E7C00" fill-opacity="0.85"/>
<circle cx="1072.80" cy="671.50" r="2.70" fill="#7E7C00" fill-opacity="0.85"/>
<circle cx="1072.80" cy="676.80" r="2.70" fill="#7E7C00" fill-opacity="0.85"/>
<circle cx="1072.80" cy="683.40" r="2.70" fill="#7E7C00" fill-opacity="0.85"/>
<circle cx="1072.80" cy="723.50" r="2.70" fill="#7E7C00" fill-opacity="0.85"/>
<line x1="1106.70" y1="682.00" x2="1106.70" y2="684.50" stroke="#555555" stroke-width="1.2"/>
<line x1="1106.70" y1="691.50" x2="1106.70" y2="715.80" stroke="#555555" stroke-width="1.2"/>
<line x1="1101.20" y1="682.00" x2="1112.20" y2="682.00" stroke="#555555" stroke-width="1.2"/>
<line x1="1101.20" y1="715.80" x2="1112.20" y2="715.80" stroke="#555555" stroke-width="1.2"/>
<rect x="1095.50" y="684.50" width="22.40" height="7.00" fill="none" stroke="#555555" stroke-width="1.2"/>
<line x1="1095.50" y1="688.70" x2="1117.90" y2="688.70" stroke="#555555" stroke-width="1.2"/>
<circle cx="1097.80" cy="684.30" r="2.70" fill="#9E72CF" fill-opacity="0.85"/>
<circle cx="1106.70" cy="682.70" r="2.70" fill="#9E72CF" fill-opacity="0.85"/>
<circle cx="1115.50" cy="684.80" r="2.70" fill="#9E72CF" fill-opacity="0.85"/>
<circle cx="1097.80" cy="690.80" r="2.70" fill="#9E72CF" fill-opacity="0.85"/>
<circle cx="1103.20" cy="689.20" r="2.70" fill="#9E72CF" fill-opacity="0.85"/>
<circle cx="1109.00" cy="689.70" r="2.70" fill="#9E72CF" fill-opacity="0.85"/>
<circle cx="1115.50" cy="690.10" r="2.70" fill="#9E72CF" fill-opacity="0.85"/>
<circle cx="1106.70" cy="715.80" r="2.70" fill="#9E72CF" fill-opacity="0.85"/>
<line x1="1140.50" y1="682.00" x2="1140.50" y2="683.80" stroke="#555555" stroke-width="1.2"/>
<line x1="1140.50" y1="693.60" x2="1140.50" y2="697.00" stroke="#555555" stroke-width="1.2"/>
<line x1="1135.00" y1="682.00" x2="1146.00" y2="682.00" stroke="#555555" stroke-width="1.2"/>
<line x1="1135.00" y1="697.00" x2="1146.00" y2="697.00" stroke="#555555" stroke-width="1.2"/>
<rect x="1129.40" y="683.80" width="22.20" height="9.80" fill="none" stroke="#555555" stroke-width="1.2"/>
<line x1="1129.40" y1="688.50" x2="1151.60" y2="688.50" stroke="#555555" stroke-width="1.2"/>
<circle cx="1135.10" cy="684.30" r="2.70" fill="#7E7C00" fill-opacity="0.85"/>
<circle cx="1145.90" cy="682.70" r="2.70" fill="#7E7C00" fill-opacity="0.85"/>
<circle cx="1135.10" cy="690.80" r="2.70" fill="#7E7C00" fill-opacity="0.85"/>
<circle cx="1145.90" cy="691.50" r="2.70" fill="#7E7C00" fill-opacity="0.85"/>
<circle cx="1140.50" cy="689.00" r="2.70" fill="#7E7C00" fill-opacity="0.85"/>
<circle cx="1135.10" cy="697.40" r="2.70" fill="#7E7C00" fill-opacity="0.85"/>
<rect x="979.60" y="819.20" width="14.30" height="14.30" fill="#A680CC" stroke="#444" stroke-width="1"/>
<rect x="1090.40" y="819.20" width="14.30" height="14.30" fill="#7D7D00" stroke="#444" stroke-width="1"/>
<text x="1002.00" y="829.20" font-size="13.7" text-anchor="start" font-weight="normal" font-style="normal" fill="#111" stroke="#111" stroke-width="0.25">Metastasis</text>
<text x="1113.00" y="829.20" font-size="13.7" text-anchor="start" font-weight="normal" font-style="normal" fill="#111" stroke="#111" stroke-width="0.25">Primary tumor</text>
<text x="0.50" y="842.60" font-size="31" text-anchor="start" font-weight="bold" font-style="normal" fill="#000">f</text>
<text x="84.50" y="836.10" font-size="17.49" text-anchor="start" font-weight="normal" font-style="italic" fill="#111" stroke="#111" stroke-width="0.25">Actin-based cell movement</text>
<text x="84.50" y="854.80" font-size="15.41" text-anchor="start" font-weight="normal" font-style="italic" fill="#111" stroke="#111" stroke-width="0.25">Protein-level</text>
<line x1="81.00" y1="903.80" x2="81.00" y2="1110.20" stroke="#5a5a5a" stroke-width="1.15"/>
<line x1="76.00" y1="1110.20" x2="81.00" y2="1110.20" stroke="#5a5a5a" stroke-width="1.15"/>
<line x1="76.00" y1="1058.60" x2="81.00" y2="1058.60" stroke="#5a5a5a" stroke-width="1.15"/>
<line x1="76.00" y1="1007.00" x2="81.00" y2="1007.00" stroke="#5a5a5a" stroke-width="1.15"/>
<line x1="76.00" y1="955.40" x2="81.00" y2="955.40" stroke="#5a5a5a" stroke-width="1.15"/>
<line x1="76.00" y1="903.80" x2="81.00" y2="903.80" stroke="#5a5a5a" stroke-width="1.15"/>
<line x1="78.00" y1="1093.00" x2="81.00" y2="1093.00" stroke="#5a5a5a" stroke-width="1.15"/>
<line x1="78.00" y1="1075.80" x2="81.00" y2="1075.80" stroke="#5a5a5a" stroke-width="1.15"/>
<line x1="78.00" y1="1041.40" x2="81.00" y2="1041.40" stroke="#5a5a5a" stroke-width="1.15"/>
<line x1="78.00" y1="1024.20" x2="81.00" y2="1024.20" stroke="#5a5a5a" stroke-width="1.15"/>
<line x1="78.00" y1="989.80" x2="81.00" y2="989.80" stroke="#5a5a5a" stroke-width="1.15"/>
<line x1="78.00" y1="972.60" x2="81.00" y2="972.60" stroke="#5a5a5a" stroke-width="1.15"/>
<line x1="78.00" y1="938.20" x2="81.00" y2="938.20" stroke="#5a5a5a" stroke-width="1.15"/>
<line x1="78.00" y1="921.00" x2="81.00" y2="921.00" stroke="#5a5a5a" stroke-width="1.15"/>
<text x="74.50" y="1115.17" font-size="13.8" text-anchor="end" font-weight="normal" font-style="normal" fill="#111" stroke="#111" stroke-width="0.25">10</text>
<text x="74.50" y="1063.57" font-size="13.8" text-anchor="end" font-weight="normal" font-style="normal" fill="#111" stroke="#111" stroke-width="0.25">15</text>
<text x="74.50" y="1011.97" font-size="13.8" text-anchor="end" font-weight="normal" font-style="normal" fill="#111" stroke="#111" stroke-width="0.25">20</text>
<text x="74.50" y="960.37" font-size="13.8" text-anchor="end" font-weight="normal" font-style="normal" fill="#111" stroke="#111" stroke-width="0.25">25</text>
<text x="74.50" y="908.77" font-size="13.8" text-anchor="end" font-weight="normal" font-style="normal" fill="#111" stroke="#111" stroke-width="0.25">30</text>
<line x1="81.00" y1="1110.20" x2="573.30" y2="1110.20" stroke="#5a5a5a" stroke-width="1.15"/>
<line x1="151.90" y1="903.80" x2="151.90" y2="1110.20" stroke="#3a3a3a" stroke-width="1.5" stroke-dasharray="1.3,1.35"/>
<line x1="226.60" y1="903.80" x2="226.60" y2="1110.20" stroke="#3a3a3a" stroke-width="1.5" stroke-dasharray="1.3,1.35"/>
<line x1="295.40" y1="903.80" x2="295.40" y2="1110.20" stroke="#3a3a3a" stroke-width="1.5" stroke-dasharray="1.3,1.35"/>
<line x1="364.30" y1="903.80" x2="364.30" y2="1110.20" stroke="#3a3a3a" stroke-width="1.5" stroke-dasharray="1.3,1.35"/>
<line x1="432.70" y1="903.80" x2="432.70" y2="1110.20" stroke="#3a3a3a" stroke-width="1.5" stroke-dasharray="1.3,1.35"/>
<line x1="501.50" y1="903.80" x2="501.50" y2="1110.20" stroke="#3a3a3a" stroke-width="1.5" stroke-dasharray="1.3,1.35"/>
<text x="42.30" y="1004.00" font-size="15.7" text-anchor="middle" font-weight="normal" font-style="normal" fill="#111" stroke="#111" stroke-width="0.25" transform="rotate(-90 42.30 1004.00)">Intensity (log2)</text>
<text x="116.80" y="1100.50" font-size="14" text-anchor="middle" font-weight="normal" font-style="normal" fill="#111" stroke="#111" stroke-width="0.25">ACTA1</text>
<text x="190.00" y="1100.50" font-size="14" text-anchor="middle" font-weight="normal" font-style="normal" fill="#111" stroke="#111" stroke-width="0.25">ACTN2</text>
<text x="260.80" y="1100.50" font-size="14" text-anchor="middle" font-weight="normal" font-style="normal" fill="#111" stroke="#111" stroke-width="0.25">GSTM2</text>
<text x="329.20" y="1100.50" font-size="14" text-anchor="middle" font-weight="normal" font-style="normal" fill="#111" stroke="#111" stroke-width="0.25">MYL1</text>
<text x="398.00" y="1100.50" font-size="14" text-anchor="middle" font-weight="normal" font-style="normal" fill="#111" stroke="#111" stroke-width="0.25">MYO1G</text>
<text x="467.80" y="1100.50" font-size="14" text-anchor="middle" font-weight="normal" font-style="normal" fill="#111" stroke="#111" stroke-width="0.25">NEB</text>
<text x="533.90" y="1100.50" font-size="14" text-anchor="middle" font-weight="normal" font-style="normal" fill="#111" stroke="#111" stroke-width="0.25">TPM3</text>
<line x1="102.10" y1="909.50" x2="102.10" y2="918.00" stroke="#555555" stroke-width="1.2"/>
<line x1="102.10" y1="926.50" x2="102.10" y2="955.30" stroke="#555555" stroke-width="1.2"/>
<line x1="97.38" y1="909.50" x2="106.82" y2="909.50" stroke="#555555" stroke-width="1.2"/>
<line x1="97.38" y1="955.30" x2="106.82" y2="955.30" stroke="#555555" stroke-width="1.2"/>
<rect x="91.60" y="918.00" width="21.00" height="8.50" fill="none" stroke="#555555" stroke-width="1.2"/>
<line x1="91.60" y1="923.30" x2="112.60" y2="923.30" stroke="#555555" stroke-width="1.2"/>
<circle cx="102.10" cy="909.50" r="3.00" fill="#9E3337" fill-opacity="0.62"/>
<circle cx="102.10" cy="955.30" r="3.00" fill="#9E3337" fill-opacity="0.62"/>
<circle cx="95.40" cy="923.30" r="3.00" fill="#9E3337" fill-opacity="0.62"/>
<circle cx="101.40" cy="917.44" r="3.00" fill="#9E3337" fill-opacity="0.62"/>
<circle cx="94.88" cy="918.77" r="3.00" fill="#9E3337" fill-opacity="0.62"/>
<circle cx="109.01" cy="924.55" r="3.00" fill="#9E3337" fill-opacity="0.62"/>
<circle cx="109.24" cy="925.30" r="3.00" fill="#9E3337" fill-opacity="0.62"/>
<circle cx="99.47" cy="935.99" r="3.00" fill="#9E3337" fill-opacity="0.62"/>
<circle cx="99.06" cy="916.34" r="3.00" fill="#9E3337" fill-opacity="0.62"/>
<circle cx="106.38" cy="919.36" r="3.00" fill="#9E3337" fill-opacity="0.62"/>
<circle cx="97.37" cy="922.53" r="3.00" fill="#9E3337" fill-opacity="0.62"/>
<line x1="133.90" y1="912.70" x2="133.90" y2="916.70" stroke="#555555" stroke-width="1.2"/>
<line x1="133.90" y1="926.80" x2="133.90" y2="954.00" stroke="#555555" stroke-width="1.2"/>
<line x1="129.22" y1="912.70" x2="138.58" y2="912.70" stroke="#555555" stroke-width="1.2"/>
<line x1="129.22" y1="954.00" x2="138.58" y2="954.00" stroke="#555555" stroke-width="1.2"/>
<rect x="123.50" y="916.70" width="20.80" height="10.10" fill="none" stroke="#555555" stroke-width="1.2"/>
<line x1="123.50" y1="918.00" x2="144.30" y2="918.00" stroke="#555555" stroke-width="1.2"/>
<circle cx="133.90" cy="912.70" r="3.00" fill="#2084F8" fill-opacity="0.62"/>
<circle cx="133.90" cy="954.00" r="3.00" fill="#2084F8" fill-opacity="0.62"/>
<circle cx="136.48" cy="918.00" r="3.00" fill="#2084F8" fill-opacity="0.62"/>
<circle cx="129.39" cy="915.65" r="3.00" fill="#2084F8" fill-opacity="0.62"/>
<circle cx="129.50" cy="917.09" r="3.00" fill="#2084F8" fill-opacity="0.62"/>
<circle cx="130.56" cy="926.45" r="3.00" fill="#2084F8" fill-opacity="0.62"/>
<circle cx="136.94" cy="924.93" r="3.00" fill="#2084F8" fill-opacity="0.62"/>
<circle cx="129.35" cy="932.52" r="3.00" fill="#2084F8" fill-opacity="0.62"/>
<line x1="170.70" y1="934.00" x2="170.70" y2="938.00" stroke="#555555" stroke-width="1.2"/>
<line x1="170.70" y1="959.90" x2="170.70" y2="993.50" stroke="#555555" stroke-width="1.2"/>
<line x1="165.84" y1="934.00" x2="175.56" y2="934.00" stroke="#555555" stroke-width="1.2"/>
<line x1="165.84" y1="993.50" x2="175.56" y2="993.50" stroke="#555555" stroke-width="1.2"/>
<rect x="159.90" y="938.00" width="21.60" height="21.90" fill="none" stroke="#555555" stroke-width="1.2"/>
<line x1="159.90" y1="942.50" x2="181.50" y2="942.50" stroke="#555555" stroke-width="1.2"/>
<circle cx="170.70" cy="934.00" r="3.00" fill="#9E3337" fill-opacity="0.62"/>
<circle cx="170.70" cy="993.50" r="3.00" fill="#9E3337" fill-opacity="0.62"/>
<circle cx="171.79" cy="942.50" r="3.00" fill="#9E3337" fill-opacity="0.62"/>
<circle cx="163.20" cy="937.73" r="3.00" fill="#9E3337" fill-opacity="0.62"/>
<circle cx="171.19" cy="940.70" r="3.00" fill="#9E3337" fill-opacity="0.62"/>
<circle cx="172.66" cy="941.72" r="3.00" fill="#9E3337" fill-opacity="0.62"/>
<circle cx="171.02" cy="956.78" r="3.00" fill="#9E3337" fill-opacity="0.62"/>
<circle cx="176.93" cy="969.09" r="3.00" fill="#9E3337" fill-opacity="0.62"/>
<circle cx="174.56" cy="937.31" r="3.00" fill="#9E3337" fill-opacity="0.62"/>
<circle cx="168.68" cy="940.70" r="3.00" fill="#9E3337" fill-opacity="0.62"/>
<line x1="207.50" y1="931.30" x2="207.50" y2="935.30" stroke="#555555" stroke-width="1.2"/>
<line x1="207.50" y1="950.00" x2="207.50" y2="990.50" stroke="#555555" stroke-width="1.2"/>
<line x1="202.82" y1="931.30" x2="212.18" y2="931.30" stroke="#555555" stroke-width="1.2"/>
<line x1="202.82" y1="990.50" x2="212.18" y2="990.50" stroke="#555555" stroke-width="1.2"/>
<rect x="197.10" y="935.30" width="20.80" height="14.70" fill="none" stroke="#555555" stroke-width="1.2"/>
<line x1="197.10" y1="937.50" x2="217.90" y2="937.50" stroke="#555555" stroke-width="1.2"/>
<circle cx="207.50" cy="931.30" r="3.00" fill="#2084F8" fill-opacity="0.62"/>
<circle cx="207.50" cy="990.50" r="3.00" fill="#2084F8" fill-opacity="0.62"/>
<circle cx="209.12" cy="937.50" r="3.00" fill="#2084F8" fill-opacity="0.62"/>
<circle cx="201.52" cy="933.54" r="3.00" fill="#2084F8" fill-opacity="0.62"/>
<circle cx="205.64" cy="936.64" r="3.00" fill="#2084F8" fill-opacity="0.62"/>
<circle cx="213.66" cy="945.87" r="3.00" fill="#2084F8" fill-opacity="0.62"/>
<circle cx="213.38" cy="947.84" r="3.00" fill="#2084F8" fill-opacity="0.62"/>
<circle cx="201.47" cy="953.92" r="3.00" fill="#2084F8" fill-opacity="0.62"/>
<circle cx="200.90" cy="935.16" r="3.00" fill="#2084F8" fill-opacity="0.62"/>
<line x1="244.80" y1="965.50" x2="244.80" y2="975.90" stroke="#555555" stroke-width="1.2"/>
<line x1="244.80" y1="1018.20" x2="244.80" y2="1026.30" stroke="#555555" stroke-width="1.2"/>
<line x1="239.99" y1="965.50" x2="249.62" y2="965.50" stroke="#555555" stroke-width="1.2"/>
<line x1="239.99" y1="1026.30" x2="249.62" y2="1026.30" stroke="#555555" stroke-width="1.2"/>
<rect x="234.10" y="975.90" width="21.40" height="42.30" fill="none" stroke="#555555" stroke-width="1.2"/>
<line x1="234.10" y1="997.90" x2="255.50" y2="997.90" stroke="#555555" stroke-width="1.2"/>
<circle cx="244.80" cy="965.50" r="3.00" fill="#9E3337" fill-opacity="0.62"/>
<circle cx="244.80" cy="1026.30" r="3.00" fill="#9E3337" fill-opacity="0.62"/>
<circle cx="236.94" cy="997.90" r="3.00" fill="#9E3337" fill-opacity="0.62"/>
<circle cx="239.38" cy="971.41" r="3.00" fill="#9E3337" fill-opacity="0.62"/>
<circle cx="251.23" cy="983.28" r="3.00" fill="#9E3337" fill-opacity="0.62"/>
<circle cx="238.59" cy="1006.86" r="3.00" fill="#9E3337" fill-opacity="0.62"/>
<circle cx="247.33" cy="1016.27" r="3.00" fill="#9E3337" fill-opacity="0.62"/>
<circle cx="242.03" cy="1019.41" r="3.00" fill="#9E3337" fill-opacity="0.62"/>
<circle cx="247.17" cy="972.56" r="3.00" fill="#9E3337" fill-opacity="0.62"/>
<circle cx="250.69" cy="982.72" r="3.00" fill="#9E3337" fill-opacity="0.62"/>
<line x1="276.80" y1="984.40" x2="276.80" y2="989.40" stroke="#555555" stroke-width="1.2"/>
<line x1="276.80" y1="1030.80" x2="276.80" y2="1061.40" stroke="#555555" stroke-width="1.2"/>
<line x1="272.12" y1="984.40" x2="281.48" y2="984.40" stroke="#555555" stroke-width="1.2"/>
<line x1="272.12" y1="1061.40" x2="281.48" y2="1061.40" stroke="#555555" stroke-width="1.2"/>
<rect x="266.40" y="989.40" width="20.80" height="41.40" fill="none" stroke="#555555" stroke-width="1.2"/>
<line x1="266.40" y1="1013.70" x2="287.20" y2="1013.70" stroke="#555555" stroke-width="1.2"/>
<circle cx="276.80" cy="984.40" r="3.00" fill="#2084F8" fill-opacity="0.62"/>
<circle cx="276.80" cy="1061.40" r="3.00" fill="#2084F8" fill-opacity="0.62"/>
<circle cx="281.04" cy="1013.70" r="3.00" fill="#2084F8" fill-opacity="0.62"/>
<circle cx="274.19" cy="987.42" r="3.00" fill="#2084F8" fill-opacity="0.62"/>
<circle cx="271.49" cy="992.29" r="3.00" fill="#2084F8" fill-opacity="0.62"/>
<circle cx="274.40" cy="1022.14" r="3.00" fill="#2084F8" fill-opacity="0.62"/>
<circle cx="280.77" cy="1022.92" r="3.00" fill="#2084F8" fill-opacity="0.62"/>
<circle cx="271.23" cy="1035.10" r="3.00" fill="#2084F8" fill-opacity="0.62"/>
<line x1="313.30" y1="952.50" x2="313.30" y2="956.50" stroke="#555555" stroke-width="1.2"/>
<line x1="313.30" y1="961.60" x2="313.30" y2="971.50" stroke="#555555" stroke-width="1.2"/>
<line x1="308.69" y1="952.50" x2="317.91" y2="952.50" stroke="#555555" stroke-width="1.2"/>
<line x1="308.69" y1="971.50" x2="317.91" y2="971.50" stroke="#555555" stroke-width="1.2"/>
<rect x="303.05" y="956.50" width="20.50" height="5.10" fill="none" stroke="#555555" stroke-width="1.2"/>
<line x1="303.05" y1="959.20" x2="323.55" y2="959.20" stroke="#555555" stroke-width="1.2"/>
<circle cx="313.30" cy="952.50" r="3.00" fill="#9E3337" fill-opacity="0.62"/>
<circle cx="313.30" cy="971.50" r="3.00" fill="#9E3337" fill-opacity="0.62"/>
<circle cx="318.04" cy="959.20" r="3.00" fill="#9E3337" fill-opacity="0.62"/>
<circle cx="308.43" cy="955.22" r="3.00" fill="#9E3337" fill-opacity="0.62"/>
<circle cx="320.64" cy="957.42" r="3.00" fill="#9E3337" fill-opacity="0.62"/>
<circle cx="311.18" cy="956.59" r="3.00" fill="#9E3337" fill-opacity="0.62"/>
<circle cx="312.53" cy="960.64" r="3.00" fill="#9E3337" fill-opacity="0.62"/>
<circle cx="315.70" cy="965.26" r="3.00" fill="#9E3337" fill-opacity="0.62"/>
<circle cx="316.26" cy="956.40" r="3.00" fill="#9E3337" fill-opacity="0.62"/>
<circle cx="317.14" cy="957.32" r="3.00" fill="#9E3337" fill-opacity="0.62"/>
<line x1="345.30" y1="948.00" x2="345.30" y2="953.30" stroke="#555555" stroke-width="1.2"/>
<line x1="345.30" y1="964.50" x2="345.30" y2="968.80" stroke="#555555" stroke-width="1.2"/>
<line x1="340.73" y1="948.00" x2="349.87" y2="948.00" stroke="#555555" stroke-width="1.2"/>
<line x1="340.73" y1="968.80" x2="349.87" y2="968.80" stroke="#555555" stroke-width="1.2"/>
<rect x="335.15" y="953.30" width="20.30" height="11.20" fill="none" stroke="#555555" stroke-width="1.2"/>
<line x1="335.15" y1="958.70" x2="355.45" y2="958.70" stroke="#555555" stroke-width="1.2"/>
<circle cx="345.30" cy="948.00" r="3.00" fill="#2084F8" fill-opacity="0.62"/>
<circle cx="345.30" cy="968.80" r="3.00" fill="#2084F8" fill-opacity="0.62"/>
<circle cx="352.99" cy="958.70" r="3.00" fill="#2084F8" fill-opacity="0.62"/>
<circle cx="349.22" cy="952.71" r="3.00" fill="#2084F8" fill-opacity="0.62"/>
<circle cx="341.44" cy="954.60" r="3.00" fill="#2084F8" fill-opacity="0.62"/>
<circle cx="346.76" cy="964.19" r="3.00" fill="#2084F8" fill-opacity="0.62"/>
<circle cx="348.52" cy="963.03" r="3.00" fill="#2084F8" fill-opacity="0.62"/>
<circle cx="351.58" cy="965.43" r="3.00" fill="#2084F8" fill-opacity="0.62"/>
<circle cx="341.91" cy="952.56" r="3.00" fill="#2084F8" fill-opacity="0.62"/>
<circle cx="342.42" cy="953.61" r="3.00" fill="#2084F8" fill-opacity="0.62"/>
<line x1="382.10" y1="970.70" x2="382.10" y2="976.80" stroke="#555555" stroke-width="1.2"/>
<line x1="382.10" y1="996.30" x2="382.10" y2="1011.70" stroke="#555555" stroke-width="1.2"/>
<line x1="377.49" y1="970.70" x2="386.71" y2="970.70" stroke="#555555" stroke-width="1.2"/>
<line x1="377.49" y1="1011.70" x2="386.71" y2="1011.70" stroke="#555555" stroke-width="1.2"/>
<rect x="371.85" y="976.80" width="20.50" height="19.50" fill="none" stroke="#555555" stroke-width="1.2"/>
<line x1="371.85" y1="989.30" x2="392.35" y2="989.30" stroke="#555555" stroke-width="1.2"/>
<circle cx="382.10" cy="970.70" r="3.00" fill="#9E3337" fill-opacity="0.62"/>
<circle cx="382.10" cy="1011.70" r="3.00" fill="#9E3337" fill-opacity="0.62"/>
<circle cx="377.66" cy="989.30" r="3.00" fill="#9E3337" fill-opacity="0.62"/>
<circle cx="377.46" cy="976.44" r="3.00" fill="#9E3337" fill-opacity="0.62"/>
<circle cx="387.61" cy="979.98" r="3.00" fill="#9E3337" fill-opacity="0.62"/>
<circle cx="377.28" cy="993.97" r="3.00" fill="#9E3337" fill-opacity="0.62"/>
<circle cx="377.27" cy="994.80" r="3.00" fill="#9E3337" fill-opacity="0.62"/>
<circle cx="388.77" cy="998.22" r="3.00" fill="#9E3337" fill-opacity="0.62"/>
<circle cx="388.60" cy="976.26" r="3.00" fill="#9E3337" fill-opacity="0.62"/>
<circle cx="375.90" cy="977.12" r="3.00" fill="#9E3337" fill-opacity="0.62"/>
<line x1="414.10" y1="960.80" x2="414.10" y2="973.30" stroke="#555555" stroke-width="1.2"/>
<line x1="414.10" y1="986.10" x2="414.10" y2="995.50" stroke="#555555" stroke-width="1.2"/>
<line x1="409.42" y1="960.80" x2="418.78" y2="960.80" stroke="#555555" stroke-width="1.2"/>
<line x1="409.42" y1="995.50" x2="418.78" y2="995.50" stroke="#555555" stroke-width="1.2"/>
<rect x="403.70" y="973.30" width="20.80" height="12.80" fill="none" stroke="#555555" stroke-width="1.2"/>
<line x1="403.70" y1="979.20" x2="424.50" y2="979.20" stroke="#555555" stroke-width="1.2"/>
<circle cx="414.10" cy="960.80" r="3.00" fill="#2084F8" fill-opacity="0.62"/>
<circle cx="414.10" cy="995.50" r="3.00" fill="#2084F8" fill-opacity="0.62"/>
<circle cx="415.09" cy="979.20" r="3.00" fill="#2084F8" fill-opacity="0.62"/>
<circle cx="414.40" cy="971.73" r="3.00" fill="#2084F8" fill-opacity="0.62"/>
<circle cx="418.68" cy="974.48" r="3.00" fill="#2084F8" fill-opacity="0.62"/>
<circle cx="413.33" cy="980.30" r="3.00" fill="#2084F8" fill-opacity="0.62"/>
<circle cx="410.55" cy="985.84" r="3.00" fill="#2084F8" fill-opacity="0.62"/>
<circle cx="419.46" cy="988.22" r="3.00" fill="#2084F8" fill-opacity="0.62"/>
<circle cx="408.84" cy="967.92" r="3.00" fill="#2084F8" fill-opacity="0.62"/>
<line x1="451.20" y1="941.90" x2="451.20" y2="945.60" stroke="#555555" stroke-width="1.2"/>
<line x1="451.20" y1="948.80" x2="451.20" y2="949.90" stroke="#555555" stroke-width="1.2"/>
<line x1="446.59" y1="941.90" x2="455.81" y2="941.90" stroke="#555555" stroke-width="1.2"/>
<line x1="446.59" y1="949.90" x2="455.81" y2="949.90" stroke="#555555" stroke-width="1.2"/>
<rect x="440.95" y="945.60" width="20.50" height="3.20" fill="none" stroke="#555555" stroke-width="1.2"/>
<line x1="440.95" y1="947.20" x2="461.45" y2="947.20" stroke="#555555" stroke-width="1.2"/>
<circle cx="451.20" cy="941.90" r="3.00" fill="#9E3337" fill-opacity="0.62"/>
<circle cx="451.20" cy="949.90" r="3.00" fill="#9E3337" fill-opacity="0.62"/>
<circle cx="449.90" cy="947.20" r="3.00" fill="#9E3337" fill-opacity="0.62"/>
<circle cx="448.33" cy="944.04" r="3.00" fill="#9E3337" fill-opacity="0.62"/>
<circle cx="444.03" cy="945.85" r="3.00" fill="#9E3337" fill-opacity="0.62"/>
<circle cx="456.12" cy="948.23" r="3.00" fill="#9E3337" fill-opacity="0.62"/>
<circle cx="457.63" cy="948.64" r="3.00" fill="#9E3337" fill-opacity="0.62"/>
<circle cx="445.75" cy="949.04" r="3.00" fill="#9E3337" fill-opacity="0.62"/>
<circle cx="453.26" cy="945.14" r="3.00" fill="#9E3337" fill-opacity="0.62"/>
<circle cx="451.65" cy="945.95" r="3.00" fill="#9E3337" fill-opacity="0.62"/>
<circle cx="450.03" cy="945.84" r="3.00" fill="#9E3337" fill-opacity="0.62"/>
<line x1="482.70" y1="939.20" x2="482.70" y2="941.90" stroke="#555555" stroke-width="1.2"/>
<line x1="482.70" y1="948.50" x2="482.70" y2="967.50" stroke="#555555" stroke-width="1.2"/>
<line x1="478.02" y1="939.20" x2="487.38" y2="939.20" stroke="#555555" stroke-width="1.2"/>
<line x1="478.02" y1="967.50" x2="487.38" y2="967.50" stroke="#555555" stroke-width="1.2"/>
<rect x="472.30" y="941.90" width="20.80" height="6.60" fill="none" stroke="#555555" stroke-width="1.2"/>
<line x1="472.30" y1="944.00" x2="493.10" y2="944.00" stroke="#555555" stroke-width="1.2"/>
<circle cx="482.70" cy="939.20" r="3.00" fill="#2084F8" fill-opacity="0.62"/>
<circle cx="482.70" cy="967.50" r="3.00" fill="#2084F8" fill-opacity="0.62"/>
<circle cx="477.48" cy="944.00" r="3.00" fill="#2084F8" fill-opacity="0.62"/>
<circle cx="477.86" cy="940.89" r="3.00" fill="#2084F8" fill-opacity="0.62"/>
<circle cx="481.46" cy="942.18" r="3.00" fill="#2084F8" fill-opacity="0.62"/>
<circle cx="478.43" cy="948.12" r="3.00" fill="#2084F8" fill-opacity="0.62"/>
<circle cx="485.39" cy="947.85" r="3.00" fill="#2084F8" fill-opacity="0.62"/>
<circle cx="481.38" cy="951.90" r="3.00" fill="#2084F8" fill-opacity="0.62"/>
<circle cx="480.86" cy="941.15" r="3.00" fill="#2084F8" fill-opacity="0.62"/>
<line x1="520.00" y1="927.20" x2="520.00" y2="928.80" stroke="#555555" stroke-width="1.2"/>
<line x1="520.00" y1="934.70" x2="520.00" y2="936.50" stroke="#555555" stroke-width="1.2"/>
<line x1="515.46" y1="927.20" x2="524.54" y2="927.20" stroke="#555555" stroke-width="1.2"/>
<line x1="515.46" y1="936.50" x2="524.54" y2="936.50" stroke="#555555" stroke-width="1.2"/>
<rect x="509.90" y="928.80" width="20.20" height="5.90" fill="none" stroke="#555555" stroke-width="1.2"/>
<line x1="509.90" y1="931.50" x2="530.10" y2="931.50" stroke="#555555" stroke-width="1.2"/>
<circle cx="520.00" cy="927.20" r="3.00" fill="#9E3337" fill-opacity="0.62"/>
<circle cx="520.00" cy="936.50" r="3.00" fill="#9E3337" fill-opacity="0.62"/>
<circle cx="519.31" cy="931.50" r="3.00" fill="#9E3337" fill-opacity="0.62"/>
<circle cx="518.31" cy="928.45" r="3.00" fill="#9E3337" fill-opacity="0.62"/>
<circle cx="527.11" cy="929.59" r="3.00" fill="#9E3337" fill-opacity="0.62"/>
<circle cx="523.51" cy="932.46" r="3.00" fill="#9E3337" fill-opacity="0.62"/>
<circle cx="519.51" cy="933.87" r="3.00" fill="#9E3337" fill-opacity="0.62"/>
<circle cx="517.72" cy="935.43" r="3.00" fill="#9E3337" fill-opacity="0.62"/>
<circle cx="515.81" cy="928.26" r="3.00" fill="#9E3337" fill-opacity="0.62"/>
<circle cx="521.58" cy="928.99" r="3.00" fill="#9E3337" fill-opacity="0.62"/>
<circle cx="526.51" cy="930.10" r="3.00" fill="#9E3337" fill-opacity="0.62"/>
<line x1="551.50" y1="921.30" x2="551.50" y2="926.70" stroke="#555555" stroke-width="1.2"/>
<line x1="551.50" y1="933.90" x2="551.50" y2="936.80" stroke="#555555" stroke-width="1.2"/>
<line x1="546.82" y1="921.30" x2="556.18" y2="921.30" stroke="#555555" stroke-width="1.2"/>
<line x1="546.82" y1="936.80" x2="556.18" y2="936.80" stroke="#555555" stroke-width="1.2"/>
<rect x="541.10" y="926.70" width="20.80" height="7.20" fill="none" stroke="#555555" stroke-width="1.2"/>
<line x1="541.10" y1="930.70" x2="561.90" y2="930.70" stroke="#555555" stroke-width="1.2"/>
<circle cx="551.50" cy="921.30" r="3.00" fill="#2084F8" fill-opacity="0.62"/>
<circle cx="551.50" cy="936.80" r="3.00" fill="#2084F8" fill-opacity="0.62"/>
<circle cx="557.53" cy="930.70" r="3.00" fill="#2084F8" fill-opacity="0.62"/>
<circle cx="557.09" cy="926.63" r="3.00" fill="#2084F8" fill-opacity="0.62"/>
<circle cx="548.36" cy="927.95" r="3.00" fill="#2084F8" fill-opacity="0.62"/>
<circle cx="553.06" cy="931.90" r="3.00" fill="#2084F8" fill-opacity="0.62"/>
<circle cx="551.42" cy="933.87" r="3.00" fill="#2084F8" fill-opacity="0.62"/>
<circle cx="548.05" cy="934.62" r="3.00" fill="#2084F8" fill-opacity="0.62"/>
<circle cx="550.44" cy="926.12" r="3.00" fill="#2084F8" fill-opacity="0.62"/>
<polyline points="383.50,904.80 383.50,899.20 415.20,899.20 415.20,904.80" fill="none" stroke="#666" stroke-width="1.25"/>
<path d="M399.35,888.00 L399.35,893.60 M401.77,889.40 L396.93,892.20 M401.77,892.20 L396.93,889.40 " fill="none" stroke="#000" stroke-width="1.55"/>
<polyline points="452.80,904.80 452.80,899.20 484.80,899.20 484.80,904.80" fill="none" stroke="#666" stroke-width="1.25"/>
<path d="M468.80,888.00 L468.80,893.60 M471.22,889.40 L466.38,892.20 M471.22,892.20 L466.38,889.40 " fill="none" stroke="#000" stroke-width="1.55"/>
<rect x="211.00" y="1133.30" width="14.30" height="14.30" fill="#C9A0A0" stroke="#555" stroke-width="1"/>
<rect x="319.50" y="1133.30" width="14.30" height="14.30" fill="#A3BEDD" stroke="#555" stroke-width="1"/>
<text x="234.00" y="1143.30" font-size="13.7" text-anchor="start" font-weight="normal" font-style="normal" fill="#111" stroke="#111" stroke-width="0.25">Metastasis</text>
<text x="343.00" y="1143.30" font-size="13.7" text-anchor="start" font-weight="normal" font-style="normal" fill="#111" stroke="#111" stroke-width="0.25">Primary tumor</text>
<text x="685.20" y="926.60" font-size="31" text-anchor="start" font-weight="bold" font-style="normal" fill="#000">g</text>
<text x="819.50" y="930.00" font-size="17.27" text-anchor="start" font-weight="normal" font-style="italic" fill="#111" stroke="#111" stroke-width="0.25">EMT score</text>
<text x="819.50" y="948.00" font-size="14.0" text-anchor="start" font-weight="normal" font-style="italic" fill="#111" stroke="#111" stroke-width="0.25">Byers et al.</text>
<text x="697.50" y="996.30" font-size="13.82" text-anchor="middle" font-weight="normal" font-style="normal" fill="#5B2A91" stroke="#5B2A91" stroke-width="0.25">More</text>
<text x="697.50" y="1012.50" font-size="13.82" text-anchor="middle" font-weight="normal" font-style="normal" fill="#5B2A91" stroke="#5B2A91" stroke-width="0.25">Mes</text>
<text x="697.50" y="1114.50" font-size="13.82" text-anchor="middle" font-weight="normal" font-style="normal" fill="#5B2A91" stroke="#5B2A91" stroke-width="0.25">More</text>
<text x="697.50" y="1131.30" font-size="13.82" text-anchor="middle" font-weight="normal" font-style="normal" fill="#5B2A91" stroke="#5B2A91" stroke-width="0.25">Epi</text>
<line x1="697.50" y1="1024.00" x2="697.50" y2="1090.00" stroke="#000" stroke-width="1.4"/>
<path d="M693.8,1025.5 L697.5,1018.5 L701.2,1025.5 Z" fill="#000"/>
<path d="M693.8,1089 L697.5,1096.3 L701.2,1089 Z" fill="#000"/>
<text x="756.00" y="1057.50" font-size="15.6" text-anchor="middle" font-weight="normal" font-style="normal" fill="#111" stroke="#111" stroke-width="0.25" transform="rotate(-90 756.00 1057.50)">EMT score</text>
<line x1="815.50" y1="982.30" x2="815.50" y2="1138.80" stroke="#3a3a3a" stroke-width="1.2"/>
<line x1="810.50" y1="1113.30" x2="815.50" y2="1113.30" stroke="#3a3a3a" stroke-width="1.2"/>
<line x1="810.50" y1="1047.80" x2="815.50" y2="1047.80" stroke="#3a3a3a" stroke-width="1.2"/>
<line x1="810.50" y1="982.30" x2="815.50" y2="982.30" stroke="#3a3a3a" stroke-width="1.2"/>
<line x1="812.50" y1="1135.13" x2="815.50" y2="1135.13" stroke="#3a3a3a" stroke-width="1.2"/>
<line x1="812.50" y1="1091.47" x2="815.50" y2="1091.47" stroke="#3a3a3a" stroke-width="1.2"/>
<line x1="812.50" y1="1069.63" x2="815.50" y2="1069.63" stroke="#3a3a3a" stroke-width="1.2"/>
<line x1="812.50" y1="1025.97" x2="815.50" y2="1025.97" stroke="#3a3a3a" stroke-width="1.2"/>
<line x1="812.50" y1="1004.13" x2="815.50" y2="1004.13" stroke="#3a3a3a" stroke-width="1.2"/>
<line x1="815.50" y1="1138.80" x2="930.50" y2="1138.80" stroke="#3a3a3a" stroke-width="1.2"/>
<line x1="848.50" y1="1138.80" x2="848.50" y2="1143.80" stroke="#3a3a3a" stroke-width="1.2"/>
<line x1="898.00" y1="1138.80" x2="898.00" y2="1143.80" stroke="#3a3a3a" stroke-width="1.2"/>
<text x="803.60" y="987.50" font-size="14.4" text-anchor="end" font-weight="normal" font-style="normal" fill="#111" stroke="#111" stroke-width="0.25">1×10</text>
<text x="803.80" y="981.50" font-size="10.8" text-anchor="start" font-weight="normal" font-style="normal" fill="#111" stroke="#111" stroke-width="0.24">9</text>
<text x="803.60" y="1053.00" font-size="14.4" text-anchor="end" font-weight="normal" font-style="normal" fill="#111" stroke="#111" stroke-width="0.25">5×10</text>
<text x="803.80" y="1047.00" font-size="10.8" text-anchor="start" font-weight="normal" font-style="normal" fill="#111" stroke="#111" stroke-width="0.24">8</text>
<text x="809.80" y="1118.30" font-size="13.8" text-anchor="end" font-weight="normal" font-style="normal" fill="#111" stroke="#111" stroke-width="0.25">0</text>
<line x1="850.00" y1="978.30" x2="891.30" y2="978.30" stroke="#777" stroke-width="1.2"/>
<text x="870.80" y="978.00" font-size="14" text-anchor="middle" font-weight="bold" font-style="normal" fill="#000">*</text>
<line x1="848.50" y1="1069.50" x2="848.50" y2="1118.30" stroke="#BEBEBE" stroke-width="1.4"/>
<line x1="844.90" y1="1069.50" x2="852.10" y2="1069.50" stroke="#BEBEBE" stroke-width="1.4"/>
<line x1="844.90" y1="1118.30" x2="852.10" y2="1118.30" stroke="#BEBEBE" stroke-width="1.4"/>
<circle cx="848.50" cy="1093.80" r="3.70" fill="#9A90A8" stroke="#2a2a2a" stroke-width="1.1"/>
<line x1="898.00" y1="999.30" x2="898.00" y2="1113.30" stroke="#BEBEBE" stroke-width="1.4"/>
<line x1="894.40" y1="999.30" x2="901.60" y2="999.30" stroke="#BEBEBE" stroke-width="1.4"/>
<line x1="894.40" y1="1113.30" x2="901.60" y2="1113.30" stroke="#BEBEBE" stroke-width="1.4"/>
<circle cx="898.00" cy="1056.30" r="3.70" fill="#9A90A8" stroke="#2a2a2a" stroke-width="1.1"/>
<text x="852.00" y="1155.50" font-size="15.8" text-anchor="end" font-weight="normal" font-style="normal" fill="#111" stroke="#111" stroke-width="0.25" transform="rotate(-45 852.00 1155.50)">Metastasis</text>
<text x="901.00" y="1155.50" font-size="15.8" text-anchor="end" font-weight="normal" font-style="normal" fill="#111" stroke="#111" stroke-width="0.25" transform="rotate(-45 901.00 1155.50)">Primary tumor</text>
<line x1="942.80" y1="982.30" x2="942.80" y2="1138.80" stroke="#3a3a3a" stroke-width="1.2"/>
<line x1="939.60" y1="1135.13" x2="942.80" y2="1135.13" stroke="#3a3a3a" stroke-width="1.2"/>
<line x1="938.30" y1="1113.30" x2="942.80" y2="1113.30" stroke="#3a3a3a" stroke-width="1.2"/>
<line x1="939.60" y1="1091.47" x2="942.80" y2="1091.47" stroke="#3a3a3a" stroke-width="1.2"/>
<line x1="939.60" y1="1069.63" x2="942.80" y2="1069.63" stroke="#3a3a3a" stroke-width="1.2"/>
<line x1="938.30" y1="1047.80" x2="942.80" y2="1047.80" stroke="#3a3a3a" stroke-width="1.2"/>
<line x1="939.60" y1="1025.97" x2="942.80" y2="1025.97" stroke="#3a3a3a" stroke-width="1.2"/>
<line x1="939.60" y1="1004.13" x2="942.80" y2="1004.13" stroke="#3a3a3a" stroke-width="1.2"/>
<line x1="938.30" y1="982.30" x2="942.80" y2="982.30" stroke="#3a3a3a" stroke-width="1.2"/>
<line x1="942.80" y1="1138.80" x2="1057.60" y2="1138.80" stroke="#3a3a3a" stroke-width="1.2"/>
<line x1="975.50" y1="1138.80" x2="975.50" y2="1143.80" stroke="#3a3a3a" stroke-width="1.2"/>
<line x1="1024.70" y1="1138.80" x2="1024.70" y2="1143.80" stroke="#3a3a3a" stroke-width="1.2"/>
<text x="978.00" y="1155.50" font-size="15.8" text-anchor="end" font-weight="normal" font-style="normal" fill="#111" stroke="#111" stroke-width="0.25" transform="rotate(-45 978.00 1155.50)">Metastasis</text>
<text x="1027.50" y="1155.50" font-size="15.8" text-anchor="end" font-weight="normal" font-style="normal" fill="#111" stroke="#111" stroke-width="0.25" transform="rotate(-45 1027.50 1155.50)">Primary tumor</text>
<line x1="975.50" y1="1123.70" x2="1024.70" y2="1118.10" stroke="#1010EE" stroke-width="1.2"/>
<circle cx="975.50" cy="1123.70" r="2.60" fill="#1010EE"/>
<circle cx="1024.70" cy="1118.10" r="2.60" fill="#1010EE"/>
<line x1="975.50" y1="1097.40" x2="1024.70" y2="1090.00" stroke="#66CCF5" stroke-width="1.2"/>
<circle cx="975.50" cy="1097.40" r="2.60" fill="#66CCF5"/>
<circle cx="1024.70" cy="1090.00" r="2.60" fill="#66CCF5"/>
<line x1="975.50" y1="1056.90" x2="1024.70" y2="1037.80" stroke="#7A1280" stroke-width="1.2"/>
<circle cx="975.50" cy="1056.90" r="2.60" fill="#7A1280"/>
<circle cx="1024.70" cy="1037.80" r="2.60" fill="#7A1280"/>
<line x1="975.50" y1="1108.60" x2="1024.70" y2="1107.50" stroke="#F5892A" stroke-width="1.2"/>
<circle cx="975.50" cy="1108.60" r="2.60" fill="#F5892A"/>
<circle cx="1024.70" cy="1107.50" r="2.60" fill="#F5892A"/>
<line x1="975.50" y1="1119.20" x2="1024.70" y2="1120.60" stroke="#7F7F10" stroke-width="1.2"/>
<circle cx="975.50" cy="1119.20" r="2.60" fill="#7F7F10"/>
<circle cx="1024.70" cy="1120.60" r="2.60" fill="#7F7F10"/>
<line x1="975.50" y1="1076.50" x2="1024.70" y2="1075.30" stroke="#EE1111" stroke-width="1.2"/>
<circle cx="975.50" cy="1076.50" r="2.60" fill="#EE1111"/>
<circle cx="1024.70" cy="1075.30" r="2.60" fill="#EE1111"/>
<line x1="975.50" y1="1068.10" x2="1024.70" y2="994.60" stroke="#F56AF0" stroke-width="1.2"/>
<circle cx="975.50" cy="1068.10" r="2.60" fill="#F56AF0"/>
<circle cx="1024.70" cy="994.60" r="2.60" fill="#F56AF0"/>
<line x1="975.50" y1="1101.40" x2="1024.70" y2="1039.30" stroke="#858585" stroke-width="1.2"/>
<circle cx="975.50" cy="1101.40" r="2.60" fill="#858585"/>
<circle cx="1024.70" cy="1039.30" r="2.60" fill="#858585"/>
<text x="1061.90" y="979.00" font-size="13.55" text-anchor="start" font-weight="normal" font-style="normal" fill="#111" stroke="#111" stroke-width="0.25">Patient ID</text>
<line x1="1067.30" y1="997.70" x2="1081.00" y2="997.70" stroke="#1010EE" stroke-width="1.3"/>
<circle cx="1074.00" cy="997.70" r="2.30" fill="#1010EE"/>
<text x="1087.00" y="1001.80" font-size="13.0" text-anchor="start" font-weight="normal" font-style="normal" fill="#111" stroke="#111" stroke-width="0.25">2753</text>
<line x1="1067.30" y1="1016.80" x2="1081.00" y2="1016.80" stroke="#66CCF5" stroke-width="1.3"/>
<circle cx="1074.00" cy="1016.80" r="2.30" fill="#66CCF5"/>
<text x="1087.00" y="1020.90" font-size="13.0" text-anchor="start" font-weight="normal" font-style="normal" fill="#111" stroke="#111" stroke-width="0.25">3212</text>
<line x1="1067.30" y1="1035.70" x2="1081.00" y2="1035.70" stroke="#7A1280" stroke-width="1.3"/>
<circle cx="1074.00" cy="1035.70" r="2.30" fill="#7A1280"/>
<text x="1087.00" y="1039.80" font-size="13.0" text-anchor="start" font-weight="normal" font-style="normal" fill="#111" stroke="#111" stroke-width="0.25">4326</text>
<line x1="1067.30" y1="1054.60" x2="1081.00" y2="1054.60" stroke="#F5892A" stroke-width="1.3"/>
<circle cx="1074.00" cy="1054.60" r="2.30" fill="#F5892A"/>
<text x="1087.00" y="1058.70" font-size="13.0" text-anchor="start" font-weight="normal" font-style="normal" fill="#111" stroke="#111" stroke-width="0.25">1421</text>
<line x1="1067.30" y1="1073.30" x2="1081.00" y2="1073.30" stroke="#7F7F10" stroke-width="1.3"/>
<circle cx="1074.00" cy="1073.30" r="2.30" fill="#7F7F10"/>
<text x="1087.00" y="1077.40" font-size="13.0" text-anchor="start" font-weight="normal" font-style="normal" fill="#111" stroke="#111" stroke-width="0.25">2008</text>
<line x1="1067.30" y1="1092.20" x2="1081.00" y2="1092.20" stroke="#EE1111" stroke-width="1.3"/>
<circle cx="1074.00" cy="1092.20" r="2.30" fill="#EE1111"/>
<text x="1087.00" y="1096.30" font-size="13.0" text-anchor="start" font-weight="normal" font-style="normal" fill="#111" stroke="#111" stroke-width="0.25">400</text>
<line x1="1067.30" y1="1110.90" x2="1081.00" y2="1110.90" stroke="#F56AF0" stroke-width="1.3"/>
<circle cx="1074.00" cy="1110.90" r="2.30" fill="#F56AF0"/>
<text x="1087.00" y="1115.00" font-size="13.0" text-anchor="start" font-weight="normal" font-style="normal" fill="#111" stroke="#111" stroke-width="0.25">617</text>
<line x1="1067.30" y1="1130.00" x2="1081.00" y2="1130.00" stroke="#858585" stroke-width="1.3"/>
<circle cx="1074.00" cy="1130.00" r="2.30" fill="#858585"/>
<text x="1087.00" y="1134.10" font-size="13.0" text-anchor="start" font-weight="normal" font-style="normal" fill="#111" stroke="#111" stroke-width="0.25">2053</text>
<text x="-0.50" y="1244.40" font-size="31" text-anchor="start" font-weight="bold" font-style="normal" fill="#000">h</text>
<text x="80.00" y="1236.30" font-size="18.17" text-anchor="start" font-weight="normal" font-style="italic" fill="#111" stroke="#111" stroke-width="0.25">EMT markers</text>
<text x="80.00" y="1255.00" font-size="16.13" text-anchor="start" font-weight="normal" font-style="italic" fill="#111" stroke="#111" stroke-width="0.25">Protein-level</text>
<line x1="79.50" y1="1295.06" x2="79.50" y2="1507.70" stroke="#5a5a5a" stroke-width="1.15"/>
<line x1="74.50" y1="1507.70" x2="79.50" y2="1507.70" stroke="#5a5a5a" stroke-width="1.15"/>
<line x1="74.50" y1="1419.10" x2="79.50" y2="1419.10" stroke="#5a5a5a" stroke-width="1.15"/>
<line x1="74.50" y1="1330.50" x2="79.50" y2="1330.50" stroke="#5a5a5a" stroke-width="1.15"/>
<line x1="76.50" y1="1478.17" x2="79.50" y2="1478.17" stroke="#5a5a5a" stroke-width="1.15"/>
<line x1="76.50" y1="1448.63" x2="79.50" y2="1448.63" stroke="#5a5a5a" stroke-width="1.15"/>
<line x1="76.50" y1="1389.57" x2="79.50" y2="1389.57" stroke="#5a5a5a" stroke-width="1.15"/>
<line x1="76.50" y1="1360.03" x2="79.50" y2="1360.03" stroke="#5a5a5a" stroke-width="1.15"/>
<line x1="76.50" y1="1300.97" x2="79.50" y2="1300.97" stroke="#5a5a5a" stroke-width="1.15"/>
<text x="73.20" y="1512.70" font-size="14.4" text-anchor="end" font-weight="normal" font-style="normal" fill="#111" stroke="#111" stroke-width="0.25">20</text>
<text x="73.20" y="1424.10" font-size="14.4" text-anchor="end" font-weight="normal" font-style="normal" fill="#111" stroke="#111" stroke-width="0.25">25</text>
<text x="73.20" y="1335.50" font-size="14.4" text-anchor="end" font-weight="normal" font-style="normal" fill="#111" stroke="#111" stroke-width="0.25">30</text>
<line x1="79.50" y1="1507.70" x2="277.50" y2="1507.70" stroke="#5a5a5a" stroke-width="1.15"/>
<line x1="149.50" y1="1295.06" x2="149.50" y2="1507.70" stroke="#3a3a3a" stroke-width="1.5" stroke-dasharray="1.3,1.35"/>
<line x1="212.50" y1="1295.06" x2="212.50" y2="1507.70" stroke="#3a3a3a" stroke-width="1.5" stroke-dasharray="1.3,1.35"/>
<text x="41.30" y="1399.00" font-size="16.0" text-anchor="middle" font-weight="normal" font-style="normal" fill="#111" stroke="#111" stroke-width="0.25" transform="rotate(-90 41.30 1399.00)">Intensity (log2)</text>
<text x="115.00" y="1497.50" font-size="14.3" text-anchor="middle" font-weight="normal" font-style="normal" fill="#111" stroke="#111" stroke-width="0.25">VIM</text>
<text x="180.00" y="1497.50" font-size="14.3" text-anchor="middle" font-weight="normal" font-style="normal" fill="#111" stroke="#111" stroke-width="0.25">FN1</text>
<text x="245.00" y="1497.50" font-size="14.3" text-anchor="middle" font-weight="normal" font-style="normal" fill="#111" stroke="#111" stroke-width="0.25">CDH1</text>
<line x1="98.75" y1="1337.00" x2="98.75" y2="1340.00" stroke="#555555" stroke-width="1.2"/>
<line x1="98.75" y1="1365.50" x2="98.75" y2="1400.50" stroke="#555555" stroke-width="1.2"/>
<line x1="94.59" y1="1337.00" x2="102.91" y2="1337.00" stroke="#555555" stroke-width="1.2"/>
<line x1="94.59" y1="1400.50" x2="102.91" y2="1400.50" stroke="#555555" stroke-width="1.2"/>
<rect x="89.50" y="1340.00" width="18.50" height="25.50" fill="none" stroke="#555555" stroke-width="1.2"/>
<line x1="89.50" y1="1353.25" x2="108.00" y2="1353.25" stroke="#555555" stroke-width="1.2"/>
<circle cx="98.75" cy="1337.00" r="2.80" fill="#9E3337" fill-opacity="0.62"/>
<circle cx="98.75" cy="1400.50" r="2.80" fill="#9E3337" fill-opacity="0.62"/>
<circle cx="96.90" cy="1353.25" r="2.80" fill="#9E3337" fill-opacity="0.62"/>
<circle cx="93.67" cy="1339.19" r="2.80" fill="#9E3337" fill-opacity="0.62"/>
<circle cx="95.18" cy="1341.76" r="2.80" fill="#9E3337" fill-opacity="0.62"/>
<circle cx="93.05" cy="1340.04" r="2.80" fill="#9E3337" fill-opacity="0.62"/>
<circle cx="103.93" cy="1363.73" r="2.80" fill="#9E3337" fill-opacity="0.62"/>
<circle cx="98.79" cy="1378.46" r="2.80" fill="#9E3337" fill-opacity="0.62"/>
<circle cx="98.96" cy="1339.43" r="2.80" fill="#9E3337" fill-opacity="0.62"/>
<circle cx="102.57" cy="1342.96" r="2.80" fill="#9E3337" fill-opacity="0.62"/>
<circle cx="101.43" cy="1344.12" r="2.80" fill="#9E3337" fill-opacity="0.62"/>
<circle cx="95.89" cy="1363.32" r="2.80" fill="#9E3337" fill-opacity="0.62"/>
<line x1="132.50" y1="1328.75" x2="132.50" y2="1340.00" stroke="#555555" stroke-width="1.2"/>
<line x1="132.50" y1="1368.75" x2="132.50" y2="1378.00" stroke="#555555" stroke-width="1.2"/>
<line x1="128.28" y1="1328.75" x2="136.72" y2="1328.75" stroke="#555555" stroke-width="1.2"/>
<line x1="128.28" y1="1378.00" x2="136.72" y2="1378.00" stroke="#555555" stroke-width="1.2"/>
<rect x="123.12" y="1340.00" width="18.75" height="28.75" fill="none" stroke="#555555" stroke-width="1.2"/>
<line x1="123.12" y1="1341.25" x2="141.88" y2="1341.25" stroke="#555555" stroke-width="1.2"/>
<circle cx="132.50" cy="1328.75" r="2.80" fill="#2084F8" fill-opacity="0.62"/>
<circle cx="132.50" cy="1378.00" r="2.80" fill="#2084F8" fill-opacity="0.62"/>
<circle cx="129.01" cy="1341.25" r="2.80" fill="#2084F8" fill-opacity="0.62"/>
<circle cx="139.21" cy="1337.98" r="2.80" fill="#2084F8" fill-opacity="0.62"/>
<circle cx="128.84" cy="1344.60" r="2.80" fill="#2084F8" fill-opacity="0.62"/>
<circle cx="139.08" cy="1354.18" r="2.80" fill="#2084F8" fill-opacity="0.62"/>
<circle cx="126.73" cy="1366.11" r="2.80" fill="#2084F8" fill-opacity="0.62"/>
<circle cx="131.73" cy="1369.73" r="2.80" fill="#2084F8" fill-opacity="0.62"/>
<circle cx="133.25" cy="1336.62" r="2.80" fill="#2084F8" fill-opacity="0.62"/>
<line x1="166.25" y1="1397.50" x2="166.25" y2="1412.50" stroke="#555555" stroke-width="1.2"/>
<line x1="166.25" y1="1440.75" x2="166.25" y2="1440.75" stroke="#555555" stroke-width="1.2"/>
<line x1="162.03" y1="1397.50" x2="170.47" y2="1397.50" stroke="#555555" stroke-width="1.2"/>
<line x1="162.03" y1="1440.75" x2="170.47" y2="1440.75" stroke="#555555" stroke-width="1.2"/>
<rect x="156.88" y="1412.50" width="18.75" height="28.25" fill="none" stroke="#555555" stroke-width="1.2"/>
<line x1="156.88" y1="1426.25" x2="175.62" y2="1426.25" stroke="#555555" stroke-width="1.2"/>
<circle cx="166.25" cy="1397.50" r="2.80" fill="#9E3337" fill-opacity="0.62"/>
<circle cx="166.25" cy="1440.75" r="2.80" fill="#9E3337" fill-opacity="0.62"/>
<circle cx="164.79" cy="1426.25" r="2.80" fill="#9E3337" fill-opacity="0.62"/>
<circle cx="166.30" cy="1405.98" r="2.80" fill="#9E3337" fill-opacity="0.62"/>
<circle cx="170.17" cy="1415.55" r="2.80" fill="#9E3337" fill-opacity="0.62"/>
<circle cx="163.96" cy="1428.14" r="2.80" fill="#9E3337" fill-opacity="0.62"/>
<circle cx="172.95" cy="1438.07" r="2.80" fill="#9E3337" fill-opacity="0.62"/>
<circle cx="160.73" cy="1440.75" r="2.80" fill="#9E3337" fill-opacity="0.62"/>
<circle cx="168.49" cy="1412.25" r="2.80" fill="#9E3337" fill-opacity="0.62"/>
<line x1="195.75" y1="1363.75" x2="195.75" y2="1382.50" stroke="#555555" stroke-width="1.2"/>
<line x1="195.75" y1="1420.00" x2="195.75" y2="1420.00" stroke="#555555" stroke-width="1.2"/>
<line x1="191.53" y1="1363.75" x2="199.97" y2="1363.75" stroke="#555555" stroke-width="1.2"/>
<line x1="191.53" y1="1420.00" x2="199.97" y2="1420.00" stroke="#555555" stroke-width="1.2"/>
<rect x="186.38" y="1382.50" width="18.75" height="37.50" fill="none" stroke="#555555" stroke-width="1.2"/>
<line x1="186.38" y1="1410.00" x2="205.12" y2="1410.00" stroke="#555555" stroke-width="1.2"/>
<circle cx="195.75" cy="1363.75" r="2.80" fill="#2084F8" fill-opacity="0.62"/>
<circle cx="195.75" cy="1420.00" r="2.80" fill="#2084F8" fill-opacity="0.62"/>
<circle cx="192.31" cy="1410.00" r="2.80" fill="#2084F8" fill-opacity="0.62"/>
<circle cx="195.98" cy="1382.23" r="2.80" fill="#2084F8" fill-opacity="0.62"/>
<circle cx="194.30" cy="1389.77" r="2.80" fill="#2084F8" fill-opacity="0.62"/>
<circle cx="194.46" cy="1389.81" r="2.80" fill="#2084F8" fill-opacity="0.62"/>
<circle cx="199.88" cy="1412.54" r="2.80" fill="#2084F8" fill-opacity="0.62"/>
<circle cx="200.42" cy="1420.00" r="2.80" fill="#2084F8" fill-opacity="0.62"/>
<line x1="229.50" y1="1406.75" x2="229.50" y2="1418.75" stroke="#555555" stroke-width="1.2"/>
<line x1="229.50" y1="1423.75" x2="229.50" y2="1436.25" stroke="#555555" stroke-width="1.2"/>
<line x1="225.28" y1="1406.75" x2="233.72" y2="1406.75" stroke="#555555" stroke-width="1.2"/>
<line x1="225.28" y1="1436.25" x2="233.72" y2="1436.25" stroke="#555555" stroke-width="1.2"/>
<rect x="220.12" y="1418.75" width="18.75" height="5.00" fill="none" stroke="#555555" stroke-width="1.2"/>
<line x1="220.12" y1="1420.50" x2="238.88" y2="1420.50" stroke="#555555" stroke-width="1.2"/>
<circle cx="229.50" cy="1406.75" r="2.80" fill="#9E3337" fill-opacity="0.62"/>
<circle cx="229.50" cy="1436.25" r="2.80" fill="#9E3337" fill-opacity="0.62"/>
<circle cx="225.65" cy="1420.50" r="2.80" fill="#9E3337" fill-opacity="0.62"/>
<circle cx="233.15" cy="1418.03" r="2.80" fill="#9E3337" fill-opacity="0.62"/>
<circle cx="223.10" cy="1419.18" r="2.80" fill="#9E3337" fill-opacity="0.62"/>
<circle cx="226.50" cy="1423.01" r="2.80" fill="#9E3337" fill-opacity="0.62"/>
<circle cx="235.62" cy="1423.30" r="2.80" fill="#9E3337" fill-opacity="0.62"/>
<circle cx="223.61" cy="1425.06" r="2.80" fill="#9E3337" fill-opacity="0.62"/>
<circle cx="227.94" cy="1415.14" r="2.80" fill="#9E3337" fill-opacity="0.62"/>
<circle cx="225.03" cy="1419.06" r="2.80" fill="#9E3337" fill-opacity="0.62"/>
<circle cx="227.81" cy="1421.67" r="2.80" fill="#9E3337" fill-opacity="0.62"/>
<line x1="258.25" y1="1410.00" x2="258.25" y2="1422.00" stroke="#555555" stroke-width="1.2"/>
<line x1="258.25" y1="1445.50" x2="258.25" y2="1462.50" stroke="#555555" stroke-width="1.2"/>
<line x1="254.03" y1="1410.00" x2="262.47" y2="1410.00" stroke="#555555" stroke-width="1.2"/>
<line x1="254.03" y1="1462.50" x2="262.47" y2="1462.50" stroke="#555555" stroke-width="1.2"/>
<rect x="248.88" y="1422.00" width="18.75" height="23.50" fill="none" stroke="#555555" stroke-width="1.2"/>
<line x1="248.88" y1="1434.50" x2="267.62" y2="1434.50" stroke="#555555" stroke-width="1.2"/>
<circle cx="258.25" cy="1410.00" r="2.80" fill="#2084F8" fill-opacity="0.62"/>
<circle cx="258.25" cy="1462.50" r="2.80" fill="#2084F8" fill-opacity="0.62"/>
<circle cx="259.91" cy="1434.50" r="2.80" fill="#2084F8" fill-opacity="0.62"/>
<circle cx="253.76" cy="1421.01" r="2.80" fill="#2084F8" fill-opacity="0.62"/>
<circle cx="259.20" cy="1424.66" r="2.80" fill="#2084F8" fill-opacity="0.62"/>
<circle cx="261.00" cy="1436.83" r="2.80" fill="#2084F8" fill-opacity="0.62"/>
<circle cx="261.11" cy="1444.17" r="2.80" fill="#2084F8" fill-opacity="0.62"/>
<circle cx="262.86" cy="1446.83" r="2.80" fill="#2084F8" fill-opacity="0.62"/>
<circle cx="264.69" cy="1417.81" r="2.80" fill="#2084F8" fill-opacity="0.62"/>
<polyline points="165.00,1294.50 165.00,1289.25 198.75,1289.25 198.75,1294.50" fill="none" stroke="#666" stroke-width="1.25"/>
<path d="M181.88,1278.05 L181.88,1283.65 M184.30,1279.45 L179.45,1282.25 M184.30,1282.25 L179.45,1279.45 " fill="none" stroke="#000" stroke-width="1.55"/>
<polyline points="228.00,1294.50 228.00,1289.25 261.75,1289.25 261.75,1294.50" fill="none" stroke="#666" stroke-width="1.25"/>
<path d="M244.88,1278.05 L244.88,1283.65 M247.30,1279.45 L242.45,1282.25 M247.30,1282.25 L242.45,1279.45 " fill="none" stroke="#000" stroke-width="1.55"/>
<rect x="49.50" y="1531.30" width="13.00" height="13.00" fill="#C9A0A0" stroke="#555" stroke-width="1"/>
<rect x="162.50" y="1531.30" width="13.00" height="13.00" fill="#A3BEDD" stroke="#555" stroke-width="1"/>
<text x="72.50" y="1542.00" font-size="14.2" text-anchor="start" font-weight="normal" font-style="normal" fill="#111" stroke="#111" stroke-width="0.25">Metastasis</text>
<text x="185.00" y="1542.00" font-size="14.2" text-anchor="start" font-weight="normal" font-style="normal" fill="#111" stroke="#111" stroke-width="0.25">Primary tumor</text>
<text x="356.70" y="1244.30" font-size="31" text-anchor="start" font-weight="bold" font-style="normal" fill="#000">i</text>
<text x="431.00" y="1237.50" font-size="18.0" text-anchor="start" font-weight="normal" font-style="italic" fill="#111" stroke="#111" stroke-width="0.25">EMT markers</text>
<text x="431.00" y="1256.30" font-size="15.95" text-anchor="start" font-weight="normal" font-style="italic" fill="#111" stroke="#111" stroke-width="0.25">Peptide-level (only p ≤ 0.05)</text>
<line x1="432.20" y1="1302.60" x2="432.20" y2="1511.76" stroke="#5a5a5a" stroke-width="1.15"/>
<line x1="427.20" y1="1452.00" x2="432.20" y2="1452.00" stroke="#5a5a5a" stroke-width="1.15"/>
<line x1="427.20" y1="1377.30" x2="432.20" y2="1377.30" stroke="#5a5a5a" stroke-width="1.15"/>
<line x1="427.20" y1="1302.60" x2="432.20" y2="1302.60" stroke="#5a5a5a" stroke-width="1.15"/>
<line x1="429.20" y1="1501.80" x2="432.20" y2="1501.80" stroke="#5a5a5a" stroke-width="1.15"/>
<line x1="429.20" y1="1476.90" x2="432.20" y2="1476.90" stroke="#5a5a5a" stroke-width="1.15"/>
<line x1="429.20" y1="1427.10" x2="432.20" y2="1427.10" stroke="#5a5a5a" stroke-width="1.15"/>
<line x1="429.20" y1="1402.20" x2="432.20" y2="1402.20" stroke="#5a5a5a" stroke-width="1.15"/>
<line x1="429.20" y1="1352.40" x2="432.20" y2="1352.40" stroke="#5a5a5a" stroke-width="1.15"/>
<line x1="429.20" y1="1327.50" x2="432.20" y2="1327.50" stroke="#5a5a5a" stroke-width="1.15"/>
<text x="425.90" y="1457.00" font-size="14.3" text-anchor="end" font-weight="normal" font-style="normal" fill="#111" stroke="#111" stroke-width="0.25">20</text>
<text x="425.90" y="1382.30" font-size="14.3" text-anchor="end" font-weight="normal" font-style="normal" fill="#111" stroke="#111" stroke-width="0.25">25</text>
<text x="425.90" y="1307.60" font-size="14.3" text-anchor="end" font-weight="normal" font-style="normal" fill="#111" stroke="#111" stroke-width="0.25">30</text>
<line x1="432.20" y1="1511.76" x2="1128.50" y2="1511.76" stroke="#5a5a5a" stroke-width="1.15"/>
<line x1="521.60" y1="1302.60" x2="521.60" y2="1511.76" stroke="#3a3a3a" stroke-width="1.5" stroke-dasharray="1.3,1.35"/>
<line x1="608.00" y1="1302.60" x2="608.00" y2="1511.76" stroke="#3a3a3a" stroke-width="1.5" stroke-dasharray="1.3,1.35"/>
<line x1="694.20" y1="1302.60" x2="694.20" y2="1511.76" stroke="#3a3a3a" stroke-width="1.5" stroke-dasharray="1.3,1.35"/>
<line x1="780.20" y1="1302.60" x2="780.20" y2="1511.76" stroke="#3a3a3a" stroke-width="1.5" stroke-dasharray="1.3,1.35"/>
<line x1="866.10" y1="1302.60" x2="866.10" y2="1511.76" stroke="#3a3a3a" stroke-width="1.5" stroke-dasharray="1.3,1.35"/>
<line x1="952.30" y1="1302.60" x2="952.30" y2="1511.76" stroke="#3a3a3a" stroke-width="1.5" stroke-dasharray="1.3,1.35"/>
<line x1="1038.20" y1="1302.60" x2="1038.20" y2="1511.76" stroke="#3a3a3a" stroke-width="1.5" stroke-dasharray="1.3,1.35"/>
<text x="396.20" y="1404.50" font-size="16.0" text-anchor="middle" font-weight="normal" font-style="normal" fill="#111" stroke="#111" stroke-width="0.25" transform="rotate(-90 396.20 1404.50)">Intensity (log2)</text>
<text x="476.00" y="1490.50" font-size="14.4" text-anchor="middle" font-weight="normal" font-style="normal" fill="#111" stroke="#111" stroke-width="0.25">FN1</text>
<text x="476.00" y="1505.20" font-size="12.2" text-anchor="middle" font-weight="normal" font-style="normal" fill="#111" stroke="#111" stroke-width="0.25">Pep1</text>
<text x="564.70" y="1490.50" font-size="14.4" text-anchor="middle" font-weight="normal" font-style="normal" fill="#111" stroke="#111" stroke-width="0.25">FN1</text>
<text x="564.70" y="1505.20" font-size="12.2" text-anchor="middle" font-weight="normal" font-style="normal" fill="#111" stroke="#111" stroke-width="0.25">Pep3</text>
<text x="651.00" y="1490.50" font-size="14.4" text-anchor="middle" font-weight="normal" font-style="normal" fill="#111" stroke="#111" stroke-width="0.25">FN1</text>
<text x="651.00" y="1505.20" font-size="12.2" text-anchor="middle" font-weight="normal" font-style="normal" fill="#111" stroke="#111" stroke-width="0.25">Pep4</text>
<text x="736.70" y="1490.50" font-size="14.4" text-anchor="middle" font-weight="normal" font-style="normal" fill="#111" stroke="#111" stroke-width="0.25">FN1</text>
<text x="736.70" y="1505.20" font-size="12.2" text-anchor="middle" font-weight="normal" font-style="normal" fill="#111" stroke="#111" stroke-width="0.25">Pep10</text>
<text x="823.70" y="1490.50" font-size="14.4" text-anchor="middle" font-weight="normal" font-style="normal" fill="#111" stroke="#111" stroke-width="0.25">FN1</text>
<text x="823.70" y="1505.20" font-size="12.2" text-anchor="middle" font-weight="normal" font-style="normal" fill="#111" stroke="#111" stroke-width="0.25">Pep12</text>
<text x="908.90" y="1490.50" font-size="14.4" text-anchor="middle" font-weight="normal" font-style="normal" fill="#111" stroke="#111" stroke-width="0.25">CDH1</text>
<text x="908.90" y="1505.20" font-size="12.2" text-anchor="middle" font-weight="normal" font-style="normal" fill="#111" stroke="#111" stroke-width="0.25">Pep1</text>
<text x="995.30" y="1490.50" font-size="14.4" text-anchor="middle" font-weight="normal" font-style="normal" fill="#111" stroke="#111" stroke-width="0.25">CDH1</text>
<text x="995.30" y="1505.20" font-size="12.2" text-anchor="middle" font-weight="normal" font-style="normal" fill="#111" stroke="#111" stroke-width="0.25">Pep2</text>
<text x="1080.40" y="1490.50" font-size="14.4" text-anchor="middle" font-weight="normal" font-style="normal" fill="#111" stroke="#111" stroke-width="0.25">CDH1</text>
<text x="1080.40" y="1505.20" font-size="12.2" text-anchor="middle" font-weight="normal" font-style="normal" fill="#111" stroke="#111" stroke-width="0.25">Pep3</text>
<line x1="458.50" y1="1396.20" x2="458.50" y2="1410.70" stroke="#555555" stroke-width="1.2"/>
<line x1="458.50" y1="1426.50" x2="458.50" y2="1426.50" stroke="#555555" stroke-width="1.2"/>
<line x1="452.67" y1="1396.20" x2="464.33" y2="1396.20" stroke="#555555" stroke-width="1.2"/>
<line x1="452.67" y1="1426.50" x2="464.33" y2="1426.50" stroke="#555555" stroke-width="1.2"/>
<rect x="445.55" y="1410.70" width="25.90" height="15.80" fill="none" stroke="#555555" stroke-width="1.2"/>
<line x1="445.55" y1="1420.00" x2="471.45" y2="1420.00" stroke="#555555" stroke-width="1.2"/>
<circle cx="458.50" cy="1396.20" r="2.70" fill="#AE6930" fill-opacity="0.68"/>
<circle cx="458.50" cy="1426.50" r="2.70" fill="#AE6930" fill-opacity="0.68"/>
<circle cx="456.06" cy="1420.00" r="2.70" fill="#AE6930" fill-opacity="0.68"/>
<circle cx="464.43" cy="1405.50" r="2.70" fill="#AE6930" fill-opacity="0.68"/>
<circle cx="455.34" cy="1413.70" r="2.70" fill="#AE6930" fill-opacity="0.68"/>
<circle cx="459.89" cy="1419.84" r="2.70" fill="#AE6930" fill-opacity="0.68"/>
<circle cx="464.24" cy="1425.69" r="2.70" fill="#AE6930" fill-opacity="0.68"/>
<circle cx="449.01" cy="1426.50" r="2.70" fill="#AE6930" fill-opacity="0.68"/>
<line x1="498.60" y1="1371.50" x2="498.60" y2="1385.50" stroke="#555555" stroke-width="1.2"/>
<line x1="498.60" y1="1408.80" x2="498.60" y2="1414.90" stroke="#555555" stroke-width="1.2"/>
<line x1="492.82" y1="1371.50" x2="504.38" y2="1371.50" stroke="#555555" stroke-width="1.2"/>
<line x1="492.82" y1="1414.90" x2="504.38" y2="1414.90" stroke="#555555" stroke-width="1.2"/>
<rect x="485.75" y="1385.50" width="25.70" height="23.30" fill="none" stroke="#555555" stroke-width="1.2"/>
<line x1="485.75" y1="1398.50" x2="511.45" y2="1398.50" stroke="#555555" stroke-width="1.2"/>
<circle cx="498.60" cy="1371.50" r="2.70" fill="#29A262" fill-opacity="0.68"/>
<circle cx="498.60" cy="1414.90" r="2.70" fill="#29A262" fill-opacity="0.68"/>
<circle cx="495.94" cy="1398.50" r="2.70" fill="#29A262" fill-opacity="0.68"/>
<circle cx="502.86" cy="1381.47" r="2.70" fill="#29A262" fill-opacity="0.68"/>
<circle cx="495.70" cy="1388.43" r="2.70" fill="#29A262" fill-opacity="0.68"/>
<circle cx="507.33" cy="1391.11" r="2.70" fill="#29A262" fill-opacity="0.68"/>
<circle cx="497.80" cy="1405.04" r="2.70" fill="#29A262" fill-opacity="0.68"/>
<circle cx="496.12" cy="1409.72" r="2.70" fill="#29A262" fill-opacity="0.68"/>
<line x1="544.80" y1="1369.60" x2="544.80" y2="1382.20" stroke="#555555" stroke-width="1.2"/>
<line x1="544.80" y1="1407.60" x2="544.80" y2="1415.80" stroke="#555555" stroke-width="1.2"/>
<line x1="539.02" y1="1369.60" x2="550.58" y2="1369.60" stroke="#555555" stroke-width="1.2"/>
<line x1="539.02" y1="1415.80" x2="550.58" y2="1415.80" stroke="#555555" stroke-width="1.2"/>
<rect x="531.95" y="1382.20" width="25.70" height="25.40" fill="none" stroke="#555555" stroke-width="1.2"/>
<line x1="531.95" y1="1396.20" x2="557.65" y2="1396.20" stroke="#555555" stroke-width="1.2"/>
<circle cx="544.80" cy="1369.60" r="2.70" fill="#AE6930" fill-opacity="0.68"/>
<circle cx="544.80" cy="1415.80" r="2.70" fill="#AE6930" fill-opacity="0.68"/>
<circle cx="538.35" cy="1396.20" r="2.70" fill="#AE6930" fill-opacity="0.68"/>
<circle cx="552.35" cy="1379.33" r="2.70" fill="#AE6930" fill-opacity="0.68"/>
<circle cx="551.85" cy="1383.06" r="2.70" fill="#AE6930" fill-opacity="0.68"/>
<circle cx="535.83" cy="1391.14" r="2.70" fill="#AE6930" fill-opacity="0.68"/>
<circle cx="547.62" cy="1403.50" r="2.70" fill="#AE6930" fill-opacity="0.68"/>
<circle cx="542.44" cy="1410.17" r="2.70" fill="#AE6930" fill-opacity="0.68"/>
<line x1="584.70" y1="1348.60" x2="584.70" y2="1359.30" stroke="#555555" stroke-width="1.2"/>
<line x1="584.70" y1="1393.90" x2="584.70" y2="1401.30" stroke="#555555" stroke-width="1.2"/>
<line x1="578.96" y1="1348.60" x2="590.44" y2="1348.60" stroke="#555555" stroke-width="1.2"/>
<line x1="578.96" y1="1401.30" x2="590.44" y2="1401.30" stroke="#555555" stroke-width="1.2"/>
<rect x="571.95" y="1359.30" width="25.50" height="34.60" fill="none" stroke="#555555" stroke-width="1.2"/>
<line x1="571.95" y1="1383.40" x2="597.45" y2="1383.40" stroke="#555555" stroke-width="1.2"/>
<circle cx="584.70" cy="1348.60" r="2.70" fill="#29A262" fill-opacity="0.68"/>
<circle cx="584.70" cy="1401.30" r="2.70" fill="#29A262" fill-opacity="0.68"/>
<circle cx="575.37" cy="1383.40" r="2.70" fill="#29A262" fill-opacity="0.68"/>
<circle cx="590.28" cy="1358.48" r="2.70" fill="#29A262" fill-opacity="0.68"/>
<circle cx="588.57" cy="1361.75" r="2.70" fill="#29A262" fill-opacity="0.68"/>
<circle cx="575.57" cy="1365.95" r="2.70" fill="#29A262" fill-opacity="0.68"/>
<circle cx="575.68" cy="1391.75" r="2.70" fill="#29A262" fill-opacity="0.68"/>
<circle cx="585.81" cy="1396.88" r="2.70" fill="#29A262" fill-opacity="0.68"/>
<line x1="630.70" y1="1378.70" x2="630.70" y2="1390.40" stroke="#555555" stroke-width="1.2"/>
<line x1="630.70" y1="1418.80" x2="630.70" y2="1440.50" stroke="#555555" stroke-width="1.2"/>
<line x1="624.87" y1="1378.70" x2="636.53" y2="1378.70" stroke="#555555" stroke-width="1.2"/>
<line x1="624.87" y1="1440.50" x2="636.53" y2="1440.50" stroke="#555555" stroke-width="1.2"/>
<rect x="617.75" y="1390.40" width="25.90" height="28.40" fill="none" stroke="#555555" stroke-width="1.2"/>
<line x1="617.75" y1="1413.70" x2="643.65" y2="1413.70" stroke="#555555" stroke-width="1.2"/>
<circle cx="630.70" cy="1378.70" r="2.70" fill="#AE6930" fill-opacity="0.68"/>
<circle cx="630.70" cy="1440.50" r="2.70" fill="#AE6930" fill-opacity="0.68"/>
<circle cx="623.85" cy="1413.70" r="2.70" fill="#AE6930" fill-opacity="0.68"/>
<circle cx="635.54" cy="1387.96" r="2.70" fill="#AE6930" fill-opacity="0.68"/>
<circle cx="634.39" cy="1393.64" r="2.70" fill="#AE6930" fill-opacity="0.68"/>
<circle cx="632.97" cy="1413.28" r="2.70" fill="#AE6930" fill-opacity="0.68"/>
<circle cx="640.15" cy="1414.53" r="2.70" fill="#AE6930" fill-opacity="0.68"/>
<circle cx="631.60" cy="1420.67" r="2.70" fill="#AE6930" fill-opacity="0.68"/>
<line x1="670.60" y1="1362.10" x2="670.60" y2="1372.60" stroke="#555555" stroke-width="1.2"/>
<line x1="670.60" y1="1401.30" x2="670.60" y2="1403.20" stroke="#555555" stroke-width="1.2"/>
<line x1="664.77" y1="1362.10" x2="676.43" y2="1362.10" stroke="#555555" stroke-width="1.2"/>
<line x1="664.77" y1="1403.20" x2="676.43" y2="1403.20" stroke="#555555" stroke-width="1.2"/>
<rect x="657.65" y="1372.60" width="25.90" height="28.70" fill="none" stroke="#555555" stroke-width="1.2"/>
<line x1="657.65" y1="1394.30" x2="683.55" y2="1394.30" stroke="#555555" stroke-width="1.2"/>
<circle cx="670.60" cy="1362.10" r="2.70" fill="#29A262" fill-opacity="0.68"/>
<circle cx="670.60" cy="1403.20" r="2.70" fill="#29A262" fill-opacity="0.68"/>
<circle cx="676.41" cy="1394.30" r="2.70" fill="#29A262" fill-opacity="0.68"/>
<circle cx="673.45" cy="1371.89" r="2.70" fill="#29A262" fill-opacity="0.68"/>
<circle cx="661.95" cy="1377.45" r="2.70" fill="#29A262" fill-opacity="0.68"/>
<circle cx="679.64" cy="1380.65" r="2.70" fill="#29A262" fill-opacity="0.68"/>
<circle cx="677.35" cy="1397.27" r="2.70" fill="#29A262" fill-opacity="0.68"/>
<circle cx="668.72" cy="1401.55" r="2.70" fill="#29A262" fill-opacity="0.68"/>
<line x1="717.10" y1="1353.50" x2="717.10" y2="1374.00" stroke="#555555" stroke-width="1.2"/>
<line x1="717.10" y1="1404.40" x2="717.10" y2="1419.30" stroke="#555555" stroke-width="1.2"/>
<line x1="711.23" y1="1353.50" x2="722.97" y2="1353.50" stroke="#555555" stroke-width="1.2"/>
<line x1="711.23" y1="1419.30" x2="722.97" y2="1419.30" stroke="#555555" stroke-width="1.2"/>
<rect x="704.05" y="1374.00" width="26.10" height="30.40" fill="none" stroke="#555555" stroke-width="1.2"/>
<line x1="704.05" y1="1387.30" x2="730.15" y2="1387.30" stroke="#555555" stroke-width="1.2"/>
<circle cx="717.10" cy="1353.50" r="2.70" fill="#AE6930" fill-opacity="0.68"/>
<circle cx="717.10" cy="1419.30" r="2.70" fill="#AE6930" fill-opacity="0.68"/>
<circle cx="711.86" cy="1387.30" r="2.70" fill="#AE6930" fill-opacity="0.68"/>
<circle cx="717.59" cy="1367.01" r="2.70" fill="#AE6930" fill-opacity="0.68"/>
<circle cx="721.10" cy="1376.98" r="2.70" fill="#AE6930" fill-opacity="0.68"/>
<circle cx="722.95" cy="1385.66" r="2.70" fill="#AE6930" fill-opacity="0.68"/>
<circle cx="715.64" cy="1401.88" r="2.70" fill="#AE6930" fill-opacity="0.68"/>
<circle cx="726.17" cy="1406.21" r="2.70" fill="#AE6930" fill-opacity="0.68"/>
<line x1="757.00" y1="1323.90" x2="757.00" y2="1345.60" stroke="#555555" stroke-width="1.2"/>
<line x1="757.00" y1="1375.70" x2="757.00" y2="1382.20" stroke="#555555" stroke-width="1.2"/>
<line x1="751.13" y1="1323.90" x2="762.87" y2="1323.90" stroke="#555555" stroke-width="1.2"/>
<line x1="751.13" y1="1382.20" x2="762.87" y2="1382.20" stroke="#555555" stroke-width="1.2"/>
<rect x="743.95" y="1345.60" width="26.10" height="30.10" fill="none" stroke="#555555" stroke-width="1.2"/>
<line x1="743.95" y1="1371.70" x2="770.05" y2="1371.70" stroke="#555555" stroke-width="1.2"/>
<circle cx="757.00" cy="1323.90" r="2.70" fill="#29A262" fill-opacity="0.68"/>
<circle cx="757.00" cy="1382.20" r="2.70" fill="#29A262" fill-opacity="0.68"/>
<circle cx="754.23" cy="1371.70" r="2.70" fill="#29A262" fill-opacity="0.68"/>
<circle cx="765.66" cy="1340.89" r="2.70" fill="#29A262" fill-opacity="0.68"/>
<circle cx="759.99" cy="1349.32" r="2.70" fill="#29A262" fill-opacity="0.68"/>
<circle cx="764.71" cy="1374.08" r="2.70" fill="#29A262" fill-opacity="0.68"/>
<circle cx="754.42" cy="1372.78" r="2.70" fill="#29A262" fill-opacity="0.68"/>
<circle cx="760.94" cy="1376.41" r="2.70" fill="#29A262" fill-opacity="0.68"/>
<line x1="803.20" y1="1356.30" x2="803.20" y2="1374.00" stroke="#555555" stroke-width="1.2"/>
<line x1="803.20" y1="1388.50" x2="803.20" y2="1388.50" stroke="#555555" stroke-width="1.2"/>
<line x1="797.37" y1="1356.30" x2="809.03" y2="1356.30" stroke="#555555" stroke-width="1.2"/>
<line x1="797.37" y1="1388.50" x2="809.03" y2="1388.50" stroke="#555555" stroke-width="1.2"/>
<rect x="790.25" y="1374.00" width="25.90" height="14.50" fill="none" stroke="#555555" stroke-width="1.2"/>
<line x1="790.25" y1="1381.50" x2="816.15" y2="1381.50" stroke="#555555" stroke-width="1.2"/>
<circle cx="803.20" cy="1356.30" r="2.70" fill="#AE6930" fill-opacity="0.68"/>
<circle cx="803.20" cy="1388.50" r="2.70" fill="#AE6930" fill-opacity="0.68"/>
<circle cx="794.95" cy="1381.50" r="2.70" fill="#AE6930" fill-opacity="0.68"/>
<circle cx="805.89" cy="1369.68" r="2.70" fill="#AE6930" fill-opacity="0.68"/>
<circle cx="800.63" cy="1375.92" r="2.70" fill="#AE6930" fill-opacity="0.68"/>
<circle cx="811.40" cy="1381.18" r="2.70" fill="#AE6930" fill-opacity="0.68"/>
<circle cx="804.46" cy="1388.21" r="2.70" fill="#AE6930" fill-opacity="0.68"/>
<circle cx="807.80" cy="1388.50" r="2.70" fill="#AE6930" fill-opacity="0.68"/>
<line x1="842.80" y1="1348.80" x2="842.80" y2="1351.60" stroke="#555555" stroke-width="1.2"/>
<line x1="842.80" y1="1373.30" x2="842.80" y2="1376.80" stroke="#555555" stroke-width="1.2"/>
<line x1="836.97" y1="1348.80" x2="848.63" y2="1348.80" stroke="#555555" stroke-width="1.2"/>
<line x1="836.97" y1="1376.80" x2="848.63" y2="1376.80" stroke="#555555" stroke-width="1.2"/>
<rect x="829.85" y="1351.60" width="25.90" height="21.70" fill="none" stroke="#555555" stroke-width="1.2"/>
<line x1="829.85" y1="1367.50" x2="855.75" y2="1367.50" stroke="#555555" stroke-width="1.2"/>
<circle cx="842.80" cy="1348.80" r="2.70" fill="#29A262" fill-opacity="0.68"/>
<circle cx="842.80" cy="1376.80" r="2.70" fill="#29A262" fill-opacity="0.68"/>
<circle cx="844.41" cy="1367.50" r="2.70" fill="#29A262" fill-opacity="0.68"/>
<circle cx="843.98" cy="1350.71" r="2.70" fill="#29A262" fill-opacity="0.68"/>
<circle cx="846.59" cy="1355.58" r="2.70" fill="#29A262" fill-opacity="0.68"/>
<circle cx="845.95" cy="1356.16" r="2.70" fill="#29A262" fill-opacity="0.68"/>
<circle cx="839.04" cy="1372.59" r="2.70" fill="#29A262" fill-opacity="0.68"/>
<circle cx="839.03" cy="1373.51" r="2.70" fill="#29A262" fill-opacity="0.68"/>
<line x1="889.00" y1="1353.00" x2="889.00" y2="1361.20" stroke="#555555" stroke-width="1.2"/>
<line x1="889.00" y1="1367.70" x2="889.00" y2="1378.70" stroke="#555555" stroke-width="1.2"/>
<line x1="883.22" y1="1353.00" x2="894.78" y2="1353.00" stroke="#555555" stroke-width="1.2"/>
<line x1="883.22" y1="1378.70" x2="894.78" y2="1378.70" stroke="#555555" stroke-width="1.2"/>
<rect x="876.15" y="1361.20" width="25.70" height="6.50" fill="none" stroke="#555555" stroke-width="1.2"/>
<line x1="876.15" y1="1364.00" x2="901.85" y2="1364.00" stroke="#555555" stroke-width="1.2"/>
<circle cx="889.00" cy="1353.00" r="2.70" fill="#AE6930" fill-opacity="0.68"/>
<circle cx="889.00" cy="1378.70" r="2.70" fill="#AE6930" fill-opacity="0.68"/>
<circle cx="896.81" cy="1364.00" r="2.70" fill="#AE6930" fill-opacity="0.68"/>
<circle cx="891.62" cy="1358.67" r="2.70" fill="#AE6930" fill-opacity="0.68"/>
<circle cx="890.07" cy="1361.92" r="2.70" fill="#AE6930" fill-opacity="0.68"/>
<circle cx="882.31" cy="1366.16" r="2.70" fill="#AE6930" fill-opacity="0.68"/>
<circle cx="893.34" cy="1367.17" r="2.70" fill="#AE6930" fill-opacity="0.68"/>
<circle cx="896.33" cy="1371.57" r="2.70" fill="#AE6930" fill-opacity="0.68"/>
<circle cx="898.41" cy="1360.63" r="2.70" fill="#AE6930" fill-opacity="0.68"/>
<circle cx="887.41" cy="1362.32" r="2.70" fill="#AE6930" fill-opacity="0.68"/>
<line x1="928.50" y1="1356.30" x2="928.50" y2="1366.30" stroke="#555555" stroke-width="1.2"/>
<line x1="928.50" y1="1385.70" x2="928.50" y2="1403.00" stroke="#555555" stroke-width="1.2"/>
<line x1="922.74" y1="1356.30" x2="934.26" y2="1356.30" stroke="#555555" stroke-width="1.2"/>
<line x1="922.74" y1="1403.00" x2="934.26" y2="1403.00" stroke="#555555" stroke-width="1.2"/>
<rect x="915.70" y="1366.30" width="25.60" height="19.40" fill="none" stroke="#555555" stroke-width="1.2"/>
<line x1="915.70" y1="1374.50" x2="941.30" y2="1374.50" stroke="#555555" stroke-width="1.2"/>
<circle cx="928.50" cy="1356.30" r="2.70" fill="#29A262" fill-opacity="0.68"/>
<circle cx="928.50" cy="1403.00" r="2.70" fill="#29A262" fill-opacity="0.68"/>
<circle cx="924.13" cy="1374.50" r="2.70" fill="#29A262" fill-opacity="0.68"/>
<circle cx="935.21" cy="1365.81" r="2.70" fill="#29A262" fill-opacity="0.68"/>
<circle cx="921.31" cy="1366.77" r="2.70" fill="#29A262" fill-opacity="0.68"/>
<circle cx="929.68" cy="1371.02" r="2.70" fill="#29A262" fill-opacity="0.68"/>
<circle cx="934.55" cy="1382.82" r="2.70" fill="#29A262" fill-opacity="0.68"/>
<circle cx="924.70" cy="1387.34" r="2.70" fill="#29A262" fill-opacity="0.68"/>
<line x1="975.10" y1="1376.00" x2="975.10" y2="1386.20" stroke="#555555" stroke-width="1.2"/>
<line x1="975.10" y1="1396.60" x2="975.10" y2="1405.20" stroke="#555555" stroke-width="1.2"/>
<line x1="969.30" y1="1376.00" x2="980.90" y2="1376.00" stroke="#555555" stroke-width="1.2"/>
<line x1="969.30" y1="1405.20" x2="980.90" y2="1405.20" stroke="#555555" stroke-width="1.2"/>
<rect x="962.20" y="1386.20" width="25.80" height="10.40" fill="none" stroke="#555555" stroke-width="1.2"/>
<line x1="962.20" y1="1392.00" x2="988.00" y2="1392.00" stroke="#555555" stroke-width="1.2"/>
<circle cx="975.10" cy="1376.00" r="2.70" fill="#AE6930" fill-opacity="0.68"/>
<circle cx="975.10" cy="1405.20" r="2.70" fill="#AE6930" fill-opacity="0.68"/>
<circle cx="965.39" cy="1392.00" r="2.70" fill="#AE6930" fill-opacity="0.68"/>
<circle cx="979.98" cy="1386.11" r="2.70" fill="#AE6930" fill-opacity="0.68"/>
<circle cx="975.08" cy="1387.11" r="2.70" fill="#AE6930" fill-opacity="0.68"/>
<circle cx="973.35" cy="1389.64" r="2.70" fill="#AE6930" fill-opacity="0.68"/>
<circle cx="975.51" cy="1395.74" r="2.70" fill="#AE6930" fill-opacity="0.68"/>
<circle cx="979.26" cy="1400.19" r="2.70" fill="#AE6930" fill-opacity="0.68"/>
<circle cx="982.82" cy="1384.34" r="2.70" fill="#AE6930" fill-opacity="0.68"/>
<circle cx="970.46" cy="1386.55" r="2.70" fill="#AE6930" fill-opacity="0.68"/>
<circle cx="981.72" cy="1388.71" r="2.70" fill="#AE6930" fill-opacity="0.68"/>
<line x1="1014.80" y1="1382.90" x2="1014.80" y2="1387.30" stroke="#555555" stroke-width="1.2"/>
<line x1="1014.80" y1="1415.40" x2="1014.80" y2="1421.90" stroke="#555555" stroke-width="1.2"/>
<line x1="1009.04" y1="1382.90" x2="1020.56" y2="1382.90" stroke="#555555" stroke-width="1.2"/>
<line x1="1009.04" y1="1421.90" x2="1020.56" y2="1421.90" stroke="#555555" stroke-width="1.2"/>
<rect x="1002.00" y="1387.30" width="25.60" height="28.10" fill="none" stroke="#555555" stroke-width="1.2"/>
<line x1="1002.00" y1="1404.20" x2="1027.60" y2="1404.20" stroke="#555555" stroke-width="1.2"/>
<circle cx="1014.80" cy="1382.90" r="2.70" fill="#29A262" fill-opacity="0.68"/>
<circle cx="1014.80" cy="1421.90" r="2.70" fill="#29A262" fill-opacity="0.68"/>
<circle cx="1023.71" cy="1404.20" r="2.70" fill="#29A262" fill-opacity="0.68"/>
<circle cx="1005.09" cy="1387.27" r="2.70" fill="#29A262" fill-opacity="0.68"/>
<circle cx="1018.85" cy="1388.04" r="2.70" fill="#29A262" fill-opacity="0.68"/>
<circle cx="1020.09" cy="1404.66" r="2.70" fill="#29A262" fill-opacity="0.68"/>
<circle cx="1018.53" cy="1411.66" r="2.70" fill="#29A262" fill-opacity="0.68"/>
<circle cx="1023.46" cy="1417.13" r="2.70" fill="#29A262" fill-opacity="0.68"/>
<circle cx="1015.75" cy="1386.73" r="2.70" fill="#29A262" fill-opacity="0.68"/>
<line x1="1061.30" y1="1378.20" x2="1061.30" y2="1391.60" stroke="#555555" stroke-width="1.2"/>
<line x1="1061.30" y1="1399.60" x2="1061.30" y2="1450.70" stroke="#555555" stroke-width="1.2"/>
<line x1="1055.45" y1="1378.20" x2="1067.15" y2="1378.20" stroke="#555555" stroke-width="1.2"/>
<line x1="1055.45" y1="1450.70" x2="1067.15" y2="1450.70" stroke="#555555" stroke-width="1.2"/>
<rect x="1048.30" y="1391.60" width="26.00" height="8.00" fill="none" stroke="#555555" stroke-width="1.2"/>
<line x1="1048.30" y1="1392.70" x2="1074.30" y2="1392.70" stroke="#555555" stroke-width="1.2"/>
<circle cx="1061.30" cy="1378.20" r="2.70" fill="#AE6930" fill-opacity="0.68"/>
<circle cx="1061.30" cy="1450.70" r="2.70" fill="#AE6930" fill-opacity="0.68"/>
<circle cx="1057.82" cy="1392.70" r="2.70" fill="#AE6930" fill-opacity="0.68"/>
<circle cx="1068.34" cy="1389.44" r="2.70" fill="#AE6930" fill-opacity="0.68"/>
<circle cx="1051.63" cy="1392.61" r="2.70" fill="#AE6930" fill-opacity="0.68"/>
<circle cx="1064.73" cy="1393.27" r="2.70" fill="#AE6930" fill-opacity="0.68"/>
<circle cx="1053.67" cy="1398.94" r="2.70" fill="#AE6930" fill-opacity="0.68"/>
<circle cx="1067.89" cy="1414.48" r="2.70" fill="#AE6930" fill-opacity="0.68"/>
<circle cx="1058.66" cy="1389.00" r="2.70" fill="#AE6930" fill-opacity="0.68"/>
<circle cx="1058.83" cy="1392.51" r="2.70" fill="#AE6930" fill-opacity="0.68"/>
<circle cx="1055.42" cy="1394.12" r="2.70" fill="#AE6930" fill-opacity="0.68"/>
<line x1="1100.80" y1="1392.00" x2="1100.80" y2="1405.70" stroke="#555555" stroke-width="1.2"/>
<line x1="1100.80" y1="1420.80" x2="1100.80" y2="1455.50" stroke="#555555" stroke-width="1.2"/>
<line x1="1094.95" y1="1392.00" x2="1106.65" y2="1392.00" stroke="#555555" stroke-width="1.2"/>
<line x1="1094.95" y1="1455.50" x2="1106.65" y2="1455.50" stroke="#555555" stroke-width="1.2"/>
<rect x="1087.80" y="1405.70" width="26.00" height="15.10" fill="none" stroke="#555555" stroke-width="1.2"/>
<line x1="1087.80" y1="1410.70" x2="1113.80" y2="1410.70" stroke="#555555" stroke-width="1.2"/>
<circle cx="1100.80" cy="1392.00" r="2.70" fill="#29A262" fill-opacity="0.68"/>
<circle cx="1100.80" cy="1455.50" r="2.70" fill="#29A262" fill-opacity="0.68"/>
<circle cx="1100.11" cy="1410.70" r="2.70" fill="#29A262" fill-opacity="0.68"/>
<circle cx="1096.34" cy="1404.68" r="2.70" fill="#29A262" fill-opacity="0.68"/>
<circle cx="1106.61" cy="1408.59" r="2.70" fill="#29A262" fill-opacity="0.68"/>
<circle cx="1107.60" cy="1419.56" r="2.70" fill="#29A262" fill-opacity="0.68"/>
<circle cx="1091.82" cy="1420.51" r="2.70" fill="#29A262" fill-opacity="0.68"/>
<circle cx="1094.23" cy="1435.36" r="2.70" fill="#29A262" fill-opacity="0.68"/>
<polyline points="455.00,1302.30 455.00,1296.30 499.80,1296.30 499.80,1302.30" fill="none" stroke="#666" stroke-width="1.25"/>
<path d="M477.40,1285.10 L477.40,1290.70 M479.82,1286.50 L474.98,1289.30 M479.82,1289.30 L474.98,1286.50 " fill="none" stroke="#000" stroke-width="1.55"/>
<polyline points="543.20,1302.30 543.20,1296.30 587.30,1296.30 587.30,1302.30" fill="none" stroke="#666" stroke-width="1.25"/>
<path d="M565.25,1285.10 L565.25,1290.70 M567.67,1286.50 L562.83,1289.30 M567.67,1289.30 L562.83,1286.50 " fill="none" stroke="#000" stroke-width="1.55"/>
<polyline points="628.40,1302.30 628.40,1296.30 672.70,1296.30 672.70,1302.30" fill="none" stroke="#666" stroke-width="1.25"/>
<path d="M650.55,1285.10 L650.55,1290.70 M652.97,1286.50 L648.13,1289.30 M652.97,1289.30 L648.13,1286.50 " fill="none" stroke="#000" stroke-width="1.55"/>
<polyline points="713.30,1302.30 713.30,1296.30 758.10,1296.30 758.10,1302.30" fill="none" stroke="#666" stroke-width="1.25"/>
<path d="M735.70,1285.10 L735.70,1290.70 M738.12,1286.50 L733.28,1289.30 M738.12,1289.30 L733.28,1286.50 " fill="none" stroke="#000" stroke-width="1.55"/>
<polyline points="800.40,1302.30 800.40,1296.30 844.50,1296.30 844.50,1302.30" fill="none" stroke="#666" stroke-width="1.25"/>
<path d="M822.45,1285.10 L822.45,1290.70 M824.87,1286.50 L820.03,1289.30 M824.87,1289.30 L820.03,1286.50 " fill="none" stroke="#000" stroke-width="1.55"/>
<polyline points="886.50,1302.30 886.50,1296.30 931.00,1296.30 931.00,1302.30" fill="none" stroke="#666" stroke-width="1.25"/>
<path d="M908.75,1285.10 L908.75,1290.70 M911.17,1286.50 L906.33,1289.30 M911.17,1289.30 L906.33,1286.50 " fill="none" stroke="#000" stroke-width="1.55"/>
<polyline points="973.20,1302.30 973.20,1296.30 1017.60,1296.30 1017.60,1302.30" fill="none" stroke="#666" stroke-width="1.25"/>
<path d="M995.40,1285.10 L995.40,1290.70 M997.82,1286.50 L992.98,1289.30 M997.82,1289.30 L992.98,1286.50 " fill="none" stroke="#000" stroke-width="1.55"/>
<polyline points="1060.30,1302.30 1060.30,1296.30 1104.70,1296.30 1104.70,1302.30" fill="none" stroke="#666" stroke-width="1.25"/>
<path d="M1079.20,1285.10 L1079.20,1290.70 M1081.62,1286.50 L1076.78,1289.30 M1081.62,1289.30 L1076.78,1286.50 " fill="none" stroke="#000" stroke-width="1.55"/>
<path d="M1085.80,1285.10 L1085.80,1290.70 M1088.22,1286.50 L1083.38,1289.30 M1088.22,1289.30 L1083.38,1286.50 " fill="none" stroke="#000" stroke-width="1.55"/>
<rect x="658.30" y="1533.30" width="12.50" height="12.50" fill="#B99173" stroke="#666" stroke-width="1"/>
<rect x="778.00" y="1533.30" width="12.50" height="12.50" fill="#96C8AA" stroke="#666" stroke-width="1"/>
<text x="680.80" y="1543.30" font-size="14.0" text-anchor="start" font-weight="normal" font-style="normal" fill="#111" stroke="#111" stroke-width="0.25">Metastasis</text>
<text x="800.40" y="1543.30" font-size="14.0" text-anchor="start" font-weight="normal" font-style="normal" fill="#111" stroke="#111" stroke-width="0.25">Primary tumor</text>
</svg>
</body></html>
